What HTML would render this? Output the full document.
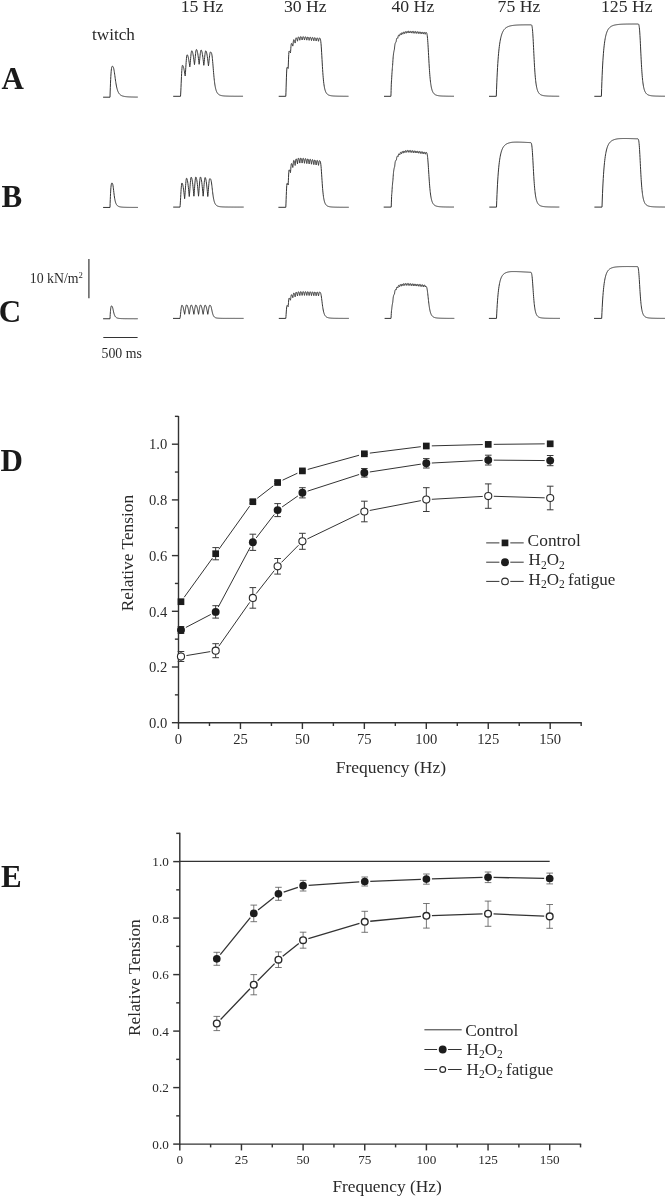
<!DOCTYPE html>
<html lang="en"><head><meta charset="utf-8"><title>Figure</title>
<style>
html,body{margin:0;padding:0;background:#fff;}
body{width:665px;height:1197px;overflow:hidden;}
svg{display:block;}
text{white-space:pre;}
</style></head><body>
<svg width="665" height="1197" viewBox="0 0 665 1197">
<rect width="665" height="1197" fill="#fff"/>
<g fill="none" stroke="#333" stroke-width="1" stroke-linejoin="round" stroke-linecap="butt">
<path d="M103.10 97.20 L110.00 97.20 L110.16 91.97 L110.33 87.32 L110.49 83.21 L110.66 79.62 L110.82 76.54 L110.99 73.93 L111.15 71.76 L111.31 70.02 L111.48 68.66 L111.64 67.65 L111.81 66.96 L111.97 66.54 L112.14 66.34 L112.30 66.30 L112.45 66.30 L112.65 66.34 L112.85 66.46 L113.05 66.68 L113.25 67.05 L113.45 67.58 L113.65 68.29 L113.85 69.17 L114.05 70.23 L114.25 71.44 L114.45 72.77 L114.65 74.19 L114.85 75.65 L115.05 77.14 L115.25 78.61 L115.45 80.05 L115.65 81.42 L115.85 82.72 L116.05 83.93 L116.25 85.06 L116.45 86.10 L116.65 87.05 L116.85 87.91 L117.05 88.70 L117.25 89.42 L117.45 90.07 L117.65 90.66 L117.85 91.19 L118.05 91.67 L118.25 92.11 L118.45 92.50 L118.65 92.86 L118.85 93.18 L119.05 93.48 L119.25 93.75 L119.45 93.99 L119.65 94.22 L119.85 94.42 L120.05 94.60 L120.25 94.78 L120.45 94.93 L120.65 95.07 L120.85 95.21 L121.05 95.33 L121.25 95.44 L121.45 95.54 L121.65 95.64 L121.85 95.73 L122.05 95.81 L122.25 95.89 L122.45 95.96 L122.65 96.02 L122.85 96.08 L123.05 96.14 L123.25 96.19 L123.45 96.24 L123.65 96.29 L123.85 96.33 L124.05 96.38 L124.25 96.41 L124.45 96.45 L124.65 96.48 L124.85 96.52 L125.05 96.55 L125.25 96.57 L125.45 96.60 L125.65 96.63 L125.85 96.65 L126.05 96.67 L126.25 96.69 L126.45 96.71 L126.65 96.73 L126.85 96.75 L127.05 96.77 L127.25 96.78 L127.45 96.80 L127.65 96.81 L127.85 96.83 L128.05 96.84 L128.25 96.85 L128.45 96.87 L128.65 96.88 L128.85 96.89 L129.05 96.90 L129.25 96.91 L129.45 96.92 L129.65 96.93 L129.85 96.94 L130.05 96.95 L130.25 96.95 L130.45 96.96 L130.65 96.97 L130.85 96.98 L131.05 96.98 L131.25 96.99 L131.45 97.00 L131.65 97.00 L131.85 97.01 L132.05 97.01 L132.25 97.02 L132.45 97.02 L132.65 97.03 L132.85 97.03 L133.05 97.04 L133.25 97.04 L133.45 97.05 L133.65 97.05 L133.85 97.05 L134.05 97.06 L134.25 97.06 L134.45 97.07 L134.65 97.07 L134.85 97.07 L135.05 97.08 L135.25 97.08 L135.45 97.08 L135.65 97.08 L135.85 97.09 L136.05 97.09 L136.25 97.09 L136.45 97.10 L136.65 97.10 L136.85 97.10 L137.05 97.10 L137.25 97.10 L137.45 97.11 L137.65 97.11 L137.80 97.20"/>
<path d="M173.20 96.30 L180.50 96.30 L180.66 94.10 L180.83 90.95 L180.99 87.41 L181.15 83.71 L181.32 80.04 L181.48 76.54 L181.64 73.36 L181.80 70.59 L181.97 68.33 L182.13 66.67 L182.29 65.64 L182.46 65.30 L182.68 65.39 L182.91 65.66 L183.13 66.11 L183.36 66.72 L183.58 67.49 L183.81 68.40 L184.03 69.45 L184.26 70.60 L184.48 71.84 L184.71 73.16 L184.93 74.52 L185.16 75.90 L185.32 74.40 L185.49 72.26 L185.65 69.85 L185.81 67.33 L185.98 64.83 L186.14 62.45 L186.30 60.28 L186.46 58.40 L186.63 56.86 L186.79 55.73 L186.95 55.03 L187.12 54.80 L187.34 54.90 L187.57 55.21 L187.79 55.71 L188.02 56.41 L188.24 57.28 L188.47 58.31 L188.69 59.49 L188.92 60.80 L189.14 62.21 L189.37 63.69 L189.59 65.23 L189.82 66.80 L189.98 65.67 L190.15 64.04 L190.31 62.21 L190.47 60.30 L190.64 58.41 L190.80 56.60 L190.96 54.96 L191.12 53.53 L191.29 52.36 L191.45 51.51 L191.61 50.98 L191.78 50.80 L192.00 50.92 L192.23 51.27 L192.45 51.85 L192.68 52.65 L192.90 53.65 L193.13 54.84 L193.35 56.20 L193.58 57.70 L193.80 59.32 L194.03 61.03 L194.25 62.80 L194.48 64.60 L194.64 63.53 L194.81 61.99 L194.97 60.27 L195.13 58.47 L195.30 56.68 L195.46 54.98 L195.62 53.42 L195.78 52.08 L195.95 50.98 L196.11 50.17 L196.27 49.67 L196.44 49.50 L196.66 49.63 L196.89 50.00 L197.11 50.63 L197.34 51.48 L197.56 52.56 L197.79 53.83 L198.01 55.29 L198.24 56.90 L198.46 58.64 L198.69 60.47 L198.91 62.37 L199.14 64.30 L199.30 63.29 L199.47 61.83 L199.63 60.20 L199.79 58.49 L199.96 56.80 L200.12 55.19 L200.28 53.72 L200.44 52.44 L200.61 51.40 L200.77 50.63 L200.93 50.16 L201.10 50.00 L201.32 50.13 L201.55 50.52 L201.77 51.16 L202.00 52.05 L202.22 53.16 L202.45 54.48 L202.67 55.99 L202.90 57.65 L203.12 59.44 L203.35 61.34 L203.57 63.30 L203.80 65.30 L203.96 64.27 L204.13 62.80 L204.29 61.14 L204.45 59.41 L204.62 57.69 L204.78 56.06 L204.94 54.57 L205.10 53.27 L205.27 52.22 L205.43 51.44 L205.59 50.96 L205.76 50.80 L205.98 50.93 L206.21 51.31 L206.43 51.94 L206.66 52.81 L206.88 53.90 L207.11 55.19 L207.33 56.67 L207.56 58.30 L207.78 60.06 L208.01 61.92 L208.23 63.84 L208.46 65.80 L208.62 64.83 L208.79 63.44 L208.95 61.87 L209.11 60.24 L209.28 58.61 L209.44 57.07 L209.60 55.66 L209.76 54.44 L209.93 53.44 L210.09 52.70 L210.25 52.25 L210.42 52.10 L210.42 52.10 L210.57 52.10 L210.72 52.11 L210.87 52.15 L211.02 52.23 L211.17 52.39 L211.32 52.63 L211.47 52.98 L211.62 53.47 L211.77 54.12 L211.92 54.93 L212.07 55.92 L212.22 57.09 L212.37 58.43 L212.52 59.92 L212.67 61.55 L212.82 63.28 L212.97 65.09 L213.12 66.94 L213.27 68.80 L213.42 70.65 L213.57 72.46 L213.72 74.20 L213.87 75.87 L214.02 77.45 L214.17 78.93 L214.32 80.31 L214.47 81.60 L214.62 82.78 L214.77 83.88 L214.92 84.88 L215.07 85.80 L215.22 86.64 L215.37 87.41 L215.52 88.10 L215.67 88.74 L215.82 89.32 L215.97 89.85 L216.12 90.34 L216.27 90.78 L216.42 91.18 L216.57 91.55 L216.72 91.89 L216.87 92.19 L217.02 92.48 L217.17 92.73 L217.32 92.97 L217.47 93.19 L217.62 93.39 L217.77 93.58 L217.92 93.75 L218.07 93.90 L218.22 94.05 L218.37 94.18 L218.52 94.31 L218.67 94.42 L218.82 94.53 L218.97 94.63 L219.12 94.72 L219.27 94.81 L219.42 94.89 L219.57 94.96 L219.72 95.03 L219.87 95.10 L220.02 95.16 L220.17 95.22 L220.32 95.27 L220.47 95.32 L220.62 95.37 L220.77 95.41 L220.92 95.45 L221.07 95.49 L221.22 95.53 L221.37 95.56 L221.52 95.60 L221.67 95.63 L221.82 95.66 L221.97 95.68 L222.12 95.71 L222.27 95.73 L222.42 95.76 L222.57 95.78 L222.72 95.80 L222.87 95.82 L223.02 95.84 L223.17 95.86 L223.32 95.88 L223.47 95.89 L223.62 95.91 L223.77 95.92 L223.92 95.94 L224.07 95.95 L224.22 95.96 L224.37 95.97 L224.52 95.99 L224.67 96.00 L224.82 96.01 L224.97 96.02 L225.12 96.03 L225.27 96.04 L225.42 96.04 L225.57 96.05 L225.72 96.06 L225.87 96.07 L226.02 96.08 L226.17 96.08 L226.32 96.09 L226.47 96.10 L226.62 96.10 L226.77 96.11 L226.92 96.12 L227.07 96.12 L227.22 96.13 L227.37 96.13 L227.52 96.14 L227.67 96.14 L227.82 96.15 L227.97 96.15 L228.12 96.15 L228.27 96.16 L228.42 96.16 L228.57 96.17 L228.72 96.17 L228.87 96.17 L229.02 96.18 L229.17 96.18 L229.32 96.18 L229.47 96.19 L229.62 96.19 L229.77 96.19 L229.92 96.19 L230.07 96.20 L230.22 96.20 L230.37 96.20 L230.52 96.21 L230.67 96.21 L230.82 96.21 L230.97 96.21 L231.12 96.21 L231.27 96.22 L231.42 96.22 L231.57 96.22 L231.72 96.22 L231.87 96.22 L232.02 96.23 L232.17 96.23 L232.32 96.23 L232.47 96.23 L232.62 96.23 L232.77 96.23 L232.92 96.24 L233.07 96.24 L233.22 96.24 L233.37 96.24 L233.52 96.24 L233.67 96.24 L233.82 96.24 L233.97 96.24 L234.12 96.25 L234.27 96.25 L234.42 96.25 L234.57 96.25 L234.72 96.25 L234.87 96.25 L235.02 96.25 L235.17 96.25 L235.32 96.25 L235.47 96.26 L235.62 96.26 L235.77 96.26 L235.92 96.26 L236.07 96.26 L236.22 96.26 L236.37 96.26 L236.52 96.26 L236.67 96.26 L236.82 96.26 L236.97 96.26 L237.12 96.26 L237.27 96.26 L237.42 96.27 L237.57 96.27 L237.72 96.27 L237.87 96.27 L238.02 96.27 L238.17 96.27 L238.32 96.27 L238.47 96.27 L238.62 96.27 L238.77 96.27 L238.92 96.27 L239.07 96.27 L239.22 96.27 L239.37 96.27 L239.52 96.27 L239.67 96.27 L239.82 96.27 L239.97 96.27 L240.12 96.27 L240.27 96.28 L240.42 96.28 L240.57 96.28 L240.72 96.28 L240.87 96.28 L241.02 96.28 L241.17 96.28 L241.32 96.28 L241.47 96.28 L241.62 96.28 L241.77 96.28 L241.92 96.28 L242.07 96.28 L242.22 96.28 L242.37 96.28 L242.52 96.28 L242.67 96.28 L242.82 96.28 L242.97 96.28 L243.00 96.30"/>
<path d="M278.70 96.30 L285.80 96.30 L285.96 92.22 L286.12 87.14 L286.28 81.98 L286.44 77.17 L286.60 73.07 L286.76 69.94 L286.92 67.98 L287.08 67.31 L287.22 67.33 L287.35 67.40 L287.48 67.50 L287.61 67.65 L287.74 67.82 L287.87 68.02 L288.00 68.24 L288.13 68.46 L288.26 66.01 L288.38 62.95 L288.50 59.84 L288.63 56.94 L288.75 54.47 L288.87 52.58 L288.99 51.40 L289.12 51.00 L289.28 51.04 L289.45 51.14 L289.62 51.32 L289.79 51.56 L289.96 51.85 L290.13 52.18 L290.30 52.53 L290.47 52.90 L290.59 51.57 L290.72 49.92 L290.84 48.23 L290.96 46.67 L291.08 45.33 L291.21 44.31 L291.33 43.67 L291.45 43.45 L291.62 43.50 L291.79 43.65 L291.96 43.90 L292.13 44.23 L292.30 44.63 L292.47 45.09 L292.64 45.58 L292.81 46.10 L292.93 45.20 L293.05 44.07 L293.17 42.93 L293.30 41.86 L293.42 40.95 L293.54 40.26 L293.66 39.82 L293.79 39.67 L293.95 39.74 L294.12 39.93 L294.29 40.25 L294.46 40.67 L294.63 41.19 L294.80 41.77 L294.97 42.41 L295.14 43.07 L295.26 42.33 L295.39 41.41 L295.51 40.46 L295.63 39.59 L295.75 38.84 L295.88 38.27 L296.00 37.91 L296.12 37.79 L296.29 37.85 L296.46 38.05 L296.63 38.36 L296.80 38.78 L296.97 39.30 L297.14 39.89 L297.31 40.52 L297.47 41.19 L297.60 40.58 L297.72 39.82 L297.84 39.04 L297.97 38.32 L298.09 37.71 L298.21 37.24 L298.33 36.94 L298.46 36.84 L298.62 36.91 L298.79 37.10 L298.96 37.42 L299.13 37.84 L299.30 38.35 L299.47 38.94 L299.64 39.58 L299.81 40.24 L299.93 39.73 L300.06 39.10 L300.18 38.45 L300.30 37.85 L300.42 37.34 L300.55 36.94 L300.67 36.70 L300.79 36.61 L300.96 36.68 L301.13 36.87 L301.30 37.19 L301.47 37.61 L301.64 38.13 L301.81 38.71 L301.98 39.35 L302.14 40.01 L302.27 39.54 L302.39 38.94 L302.51 38.34 L302.64 37.78 L302.76 37.30 L302.88 36.93 L303.00 36.70 L303.13 36.62 L303.29 36.69 L303.46 36.88 L303.63 37.20 L303.80 37.62 L303.97 38.13 L304.14 38.72 L304.31 39.36 L304.48 40.02 L304.60 39.56 L304.73 38.99 L304.85 38.41 L304.97 37.86 L305.09 37.40 L305.22 37.05 L305.34 36.83 L305.46 36.75 L305.63 36.82 L305.80 37.01 L305.97 37.32 L306.14 37.75 L306.31 38.26 L306.48 38.85 L306.65 39.49 L306.81 40.15 L306.94 39.70 L307.06 39.13 L307.18 38.56 L307.31 38.03 L307.43 37.57 L307.55 37.23 L307.67 37.01 L307.80 36.94 L307.96 37.00 L308.13 37.19 L308.30 37.51 L308.47 37.93 L308.64 38.45 L308.81 39.03 L308.98 39.67 L309.15 40.34 L309.27 39.89 L309.40 39.33 L309.52 38.76 L309.64 38.23 L309.76 37.78 L309.89 37.44 L310.01 37.22 L310.13 37.15 L310.30 37.22 L310.47 37.41 L310.64 37.72 L310.81 38.15 L310.98 38.66 L311.15 39.25 L311.32 39.89 L311.48 40.55 L311.61 40.11 L311.73 39.55 L311.85 38.99 L311.98 38.46 L312.10 38.01 L312.22 37.67 L312.34 37.45 L312.47 37.38 L312.63 37.45 L312.80 37.64 L312.97 37.95 L313.14 38.38 L313.31 38.89 L313.48 39.48 L313.65 40.12 L313.82 40.78 L313.94 40.34 L314.07 39.78 L314.19 39.22 L314.31 38.69 L314.43 38.25 L314.56 37.90 L314.68 37.69 L314.80 37.62 L314.97 37.68 L315.14 37.88 L315.31 38.19 L315.48 38.61 L315.65 39.13 L315.82 39.72 L315.99 40.35 L316.15 41.02 L316.28 40.57 L316.40 40.02 L316.52 39.46 L316.65 38.93 L316.77 38.49 L316.89 38.15 L317.01 37.93 L317.14 37.86 L317.30 37.92 L317.47 38.12 L317.64 38.43 L317.81 38.85 L317.98 39.37 L318.15 39.96 L318.32 40.60 L318.49 41.26 L318.61 40.81 L318.74 40.26 L318.86 39.70 L318.98 39.18 L319.10 38.73 L319.23 38.39 L319.35 38.17 L319.47 38.10 L319.62 38.10 L319.82 38.14 L320.02 38.28 L320.22 38.62 L320.42 39.25 L320.62 40.25 L320.82 41.72 L321.02 43.68 L321.22 46.13 L321.42 49.03 L321.62 52.28 L321.82 55.77 L322.02 59.36 L322.22 62.93 L322.42 66.37 L322.62 69.61 L322.82 72.60 L323.02 75.31 L323.22 77.74 L323.42 79.90 L323.62 81.80 L323.82 83.47 L324.02 84.94 L324.22 86.21 L324.42 87.33 L324.62 88.31 L324.82 89.16 L325.02 89.90 L325.22 90.56 L325.42 91.13 L325.62 91.64 L325.82 92.08 L326.02 92.48 L326.22 92.83 L326.42 93.14 L326.62 93.41 L326.82 93.66 L327.02 93.88 L327.22 94.08 L327.42 94.26 L327.62 94.42 L327.82 94.56 L328.02 94.69 L328.22 94.81 L328.42 94.92 L328.62 95.02 L328.82 95.11 L329.02 95.19 L329.22 95.26 L329.42 95.33 L329.62 95.39 L329.82 95.45 L330.02 95.50 L330.22 95.55 L330.42 95.60 L330.62 95.64 L330.82 95.68 L331.02 95.71 L331.22 95.74 L331.42 95.78 L331.62 95.80 L331.82 95.83 L332.02 95.85 L332.22 95.88 L332.42 95.90 L332.62 95.92 L332.82 95.94 L333.02 95.96 L333.22 95.97 L333.42 95.99 L333.62 96.00 L333.82 96.02 L334.02 96.03 L334.22 96.04 L334.42 96.05 L334.62 96.06 L334.82 96.07 L335.02 96.08 L335.22 96.09 L335.42 96.10 L335.62 96.11 L335.82 96.12 L336.02 96.13 L336.22 96.13 L336.42 96.14 L336.62 96.15 L336.82 96.15 L337.02 96.16 L337.22 96.16 L337.42 96.17 L337.62 96.17 L337.82 96.18 L338.02 96.18 L338.22 96.19 L338.42 96.19 L338.62 96.19 L338.82 96.20 L339.02 96.20 L339.22 96.20 L339.42 96.21 L339.62 96.21 L339.82 96.21 L340.02 96.22 L340.22 96.22 L340.42 96.22 L340.62 96.22 L340.82 96.23 L341.02 96.23 L341.22 96.23 L341.42 96.23 L341.62 96.24 L341.82 96.24 L342.02 96.24 L342.22 96.24 L342.42 96.24 L342.62 96.24 L342.82 96.25 L343.02 96.25 L343.22 96.25 L343.42 96.25 L343.62 96.25 L343.82 96.25 L344.02 96.25 L344.22 96.26 L344.42 96.26 L344.62 96.26 L344.82 96.26 L345.02 96.26 L345.22 96.26 L345.42 96.26 L345.62 96.26 L345.82 96.26 L346.02 96.26 L346.22 96.27 L346.42 96.27 L346.62 96.27 L346.82 96.27 L347.02 96.27 L347.22 96.27 L347.42 96.27 L347.62 96.27 L347.82 96.27 L348.02 96.27 L348.22 96.27 L348.42 96.27 L348.50 96.27"/>
<path d="M384.00 96.30 L390.90 96.30 L390.90 96.30 L391.00 93.88 L391.10 90.57 L391.20 87.19 L391.30 84.24 L391.40 82.05 L391.50 80.88 L391.60 79.75 L391.70 77.81 L391.80 76.01 L391.90 74.33 L392.00 72.78 L392.10 71.32 L392.20 69.97 L392.30 68.70 L392.40 67.52 L392.50 66.42 L392.60 65.38 L392.70 63.92 L392.80 62.32 L392.90 60.75 L393.00 59.27 L393.10 57.93 L393.20 56.76 L393.30 55.76 L393.40 54.86 L393.50 54.05 L393.60 53.31 L393.70 52.64 L393.80 52.04 L393.90 51.50 L394.00 51.02 L394.10 50.59 L394.20 50.20 L394.30 49.84 L394.40 49.13 L394.50 48.16 L394.60 47.19 L394.70 46.27 L394.80 45.46 L394.90 44.78 L395.00 44.26 L395.10 43.83 L395.20 43.46 L395.30 43.15 L395.40 42.89 L395.50 42.68 L395.60 42.52 L395.70 42.40 L395.80 42.31 L395.90 42.24 L396.00 42.20 L396.10 41.89 L396.20 41.22 L396.30 40.52 L396.40 39.85 L396.50 39.28 L396.60 38.82 L396.70 38.51 L396.80 38.30 L396.90 38.14 L397.00 38.02 L397.10 37.95 L397.20 37.92 L397.30 37.93 L397.40 37.97 L397.50 38.04 L397.60 38.13 L397.70 38.24 L397.80 38.16 L397.90 37.64 L398.00 37.07 L398.10 36.53 L398.20 36.06 L398.30 35.70 L398.40 35.48 L398.50 35.36 L398.60 35.30 L398.70 35.27 L398.80 35.29 L398.90 35.35 L399.00 35.44 L399.10 35.56 L399.20 35.71 L399.30 35.87 L399.40 36.05 L399.50 36.12 L399.60 35.69 L399.70 35.19 L399.80 34.70 L399.90 34.28 L400.00 33.96 L400.10 33.77 L400.20 33.70 L400.30 33.68 L400.40 33.70 L400.50 33.76 L400.60 33.86 L400.70 33.99 L400.80 34.15 L400.90 34.33 L401.00 34.53 L401.10 34.75 L401.20 34.93 L401.30 34.56 L401.40 34.10 L401.50 33.63 L401.60 33.23 L401.70 32.93 L401.80 32.75 L401.90 32.70 L402.00 32.70 L402.10 32.74 L402.20 32.82 L402.30 32.93 L402.40 33.08 L402.50 33.26 L402.60 33.46 L402.70 33.69 L402.80 33.92 L402.90 34.17 L403.00 33.87 L403.10 33.43 L403.20 32.98 L403.30 32.59 L403.40 32.28 L403.50 32.10 L403.60 32.05 L403.70 32.06 L403.80 32.11 L403.90 32.20 L404.00 32.32 L404.10 32.48 L404.20 32.67 L404.30 32.88 L404.40 33.12 L404.50 33.36 L404.60 33.62 L404.70 33.43 L404.80 33.01 L404.90 32.57 L405.00 32.17 L405.10 31.86 L405.20 31.67 L405.30 31.62 L405.40 31.63 L405.50 31.68 L405.60 31.77 L405.70 31.90 L405.80 32.06 L405.90 32.26 L406.00 32.47 L406.10 32.71 L406.20 32.96 L406.30 33.23 L406.40 33.14 L406.50 32.74 L406.60 32.30 L406.70 31.90 L406.80 31.58 L406.90 31.38 L407.00 31.31 L407.10 31.32 L407.20 31.38 L407.30 31.47 L407.40 31.60 L407.50 31.76 L407.60 31.96 L407.70 32.17 L407.80 32.42 L407.90 32.67 L408.00 32.94 L408.10 32.95 L408.20 32.58 L408.30 32.16 L408.40 31.77 L408.50 31.45 L408.60 31.24 L408.70 31.17 L408.80 31.19 L408.90 31.25 L409.00 31.35 L409.10 31.49 L409.20 31.66 L409.30 31.87 L409.40 32.10 L409.50 32.35 L409.60 32.62 L409.70 32.90 L409.80 33.00 L409.90 32.65 L410.00 32.24 L410.10 31.84 L410.20 31.51 L410.30 31.29 L410.40 31.19 L410.50 31.21 L410.60 31.27 L410.70 31.37 L410.80 31.50 L410.90 31.67 L411.00 31.87 L411.10 32.10 L411.20 32.36 L411.30 32.62 L411.40 32.90 L411.50 33.09 L411.60 32.76 L411.70 32.36 L411.80 31.96 L411.90 31.62 L412.00 31.38 L412.10 31.27 L412.20 31.27 L412.30 31.33 L412.40 31.42 L412.50 31.55 L412.60 31.72 L412.70 31.92 L412.80 32.15 L412.90 32.40 L413.00 32.67 L413.10 32.95 L413.20 33.21 L413.30 32.91 L413.40 32.51 L413.50 32.11 L413.60 31.75 L413.70 31.50 L413.80 31.37 L413.90 31.37 L414.00 31.42 L414.10 31.51 L414.20 31.63 L414.30 31.80 L414.40 31.99 L414.50 32.22 L414.60 32.47 L414.70 32.73 L414.80 33.01 L414.90 33.30 L415.00 33.08 L415.10 32.69 L415.20 32.28 L415.30 31.92 L415.40 31.65 L415.50 31.50 L415.60 31.48 L415.70 31.53 L415.80 31.61 L415.90 31.74 L416.00 31.90 L416.10 32.09 L416.20 32.31 L416.30 32.56 L416.40 32.82 L416.50 33.10 L416.60 33.39 L416.70 33.26 L416.80 32.88 L416.90 32.47 L417.00 32.10 L417.10 31.82 L417.20 31.65 L417.30 31.62 L417.40 31.66 L417.50 31.73 L417.60 31.85 L417.70 32.01 L417.80 32.20 L417.90 32.42 L418.00 32.66 L418.10 32.92 L418.20 33.20 L418.30 33.49 L418.40 33.46 L418.50 33.09 L418.60 32.68 L418.70 32.30 L418.80 32.00 L418.90 31.81 L419.00 31.76 L419.10 31.80 L419.20 31.87 L419.30 31.98 L419.40 32.13 L419.50 32.32 L419.60 32.53 L419.70 32.77 L419.80 33.04 L419.90 33.31 L420.00 33.60 L420.10 33.66 L420.20 33.30 L420.30 32.89 L420.40 32.51 L420.50 32.19 L420.60 31.99 L420.70 31.92 L420.80 31.95 L420.90 32.01 L421.00 32.12 L421.10 32.27 L421.20 32.45 L421.30 32.66 L421.40 32.90 L421.50 33.16 L421.60 33.43 L421.70 33.72 L421.80 33.86 L421.90 33.52 L422.00 33.12 L422.10 32.73 L422.20 32.40 L422.30 32.18 L422.40 32.08 L422.50 32.10 L422.60 32.17 L422.70 32.27 L422.80 32.41 L422.90 32.58 L423.00 32.79 L423.10 33.03 L423.20 33.28 L423.30 33.56 L423.40 33.84 L423.50 34.06 L423.60 33.75 L423.70 33.35 L423.80 32.95 L423.90 32.61 L424.00 32.37 L424.10 32.26 L424.20 32.27 L424.30 32.32 L424.40 32.42 L424.50 32.55 L424.60 32.73 L424.70 32.93 L424.80 33.16 L424.90 33.41 L425.00 33.68 L425.10 33.97 L425.20 34.26 L425.30 33.97 L425.40 33.58 L425.50 33.18 L425.60 32.83 L425.70 32.57 L425.80 32.44 L425.90 32.43 L425.90 32.43 L426.05 32.43 L426.20 32.45 L426.35 32.51 L426.50 32.65 L426.65 32.89 L426.80 33.28 L426.95 33.85 L427.10 34.63 L427.25 35.66 L427.40 36.95 L427.55 38.51 L427.70 40.34 L427.85 42.43 L428.00 44.74 L428.15 47.24 L428.30 49.89 L428.45 52.62 L428.60 55.39 L428.75 58.16 L428.90 60.88 L429.05 63.51 L429.20 66.04 L429.35 68.43 L429.50 70.68 L429.65 72.77 L429.80 74.72 L429.95 76.51 L430.10 78.16 L430.25 79.67 L430.40 81.05 L430.55 82.30 L430.70 83.45 L430.85 84.49 L431.00 85.43 L431.15 86.29 L431.30 87.08 L431.45 87.79 L431.60 88.43 L431.75 89.02 L431.90 89.56 L432.05 90.05 L432.20 90.50 L432.35 90.91 L432.50 91.28 L432.65 91.62 L432.80 91.94 L432.95 92.22 L433.10 92.49 L433.25 92.73 L433.40 92.96 L433.55 93.16 L433.70 93.35 L433.85 93.53 L434.00 93.69 L434.15 93.85 L434.30 93.99 L434.45 94.12 L434.60 94.24 L434.75 94.35 L434.90 94.46 L435.05 94.55 L435.20 94.65 L435.35 94.73 L435.50 94.81 L435.65 94.89 L435.80 94.96 L435.95 95.02 L436.10 95.08 L436.25 95.14 L436.40 95.20 L436.55 95.25 L436.70 95.29 L436.85 95.34 L437.00 95.38 L437.15 95.42 L437.30 95.46 L437.45 95.50 L437.60 95.53 L437.75 95.56 L437.90 95.59 L438.05 95.62 L438.20 95.65 L438.35 95.68 L438.50 95.70 L438.65 95.72 L438.80 95.75 L438.95 95.77 L439.10 95.79 L439.25 95.81 L439.40 95.83 L439.55 95.84 L439.70 95.86 L439.85 95.88 L440.00 95.89 L440.15 95.90 L440.30 95.92 L440.45 95.93 L440.60 95.94 L440.75 95.96 L440.90 95.97 L441.05 95.98 L441.20 95.99 L441.35 96.00 L441.50 96.01 L441.65 96.02 L441.80 96.03 L441.95 96.04 L442.10 96.04 L442.25 96.05 L442.40 96.06 L442.55 96.07 L442.70 96.07 L442.85 96.08 L443.00 96.09 L443.15 96.09 L443.30 96.10 L443.45 96.10 L443.60 96.11 L443.75 96.12 L443.90 96.12 L444.05 96.13 L444.20 96.13 L444.35 96.14 L444.50 96.14 L444.65 96.14 L444.80 96.15 L444.95 96.15 L445.10 96.16 L445.25 96.16 L445.40 96.16 L445.55 96.17 L445.70 96.17 L445.85 96.17 L446.00 96.18 L446.15 96.18 L446.30 96.18 L446.45 96.19 L446.60 96.19 L446.75 96.19 L446.90 96.19 L447.05 96.20 L447.20 96.20 L447.35 96.20 L447.50 96.20 L447.65 96.21 L447.80 96.21 L447.95 96.21 L448.10 96.21 L448.25 96.21 L448.40 96.22 L448.55 96.22 L448.70 96.22 L448.85 96.22 L449.00 96.22 L449.15 96.22 L449.30 96.23 L449.45 96.23 L449.60 96.23 L449.75 96.23 L449.90 96.23 L450.05 96.23 L450.20 96.24 L450.35 96.24 L450.50 96.24 L450.65 96.24 L450.80 96.24 L450.95 96.24 L451.10 96.24 L451.25 96.24 L451.40 96.25 L451.55 96.25 L451.70 96.25 L451.85 96.25 L452.00 96.25 L452.15 96.25 L452.30 96.25 L452.45 96.25 L452.60 96.25 L452.75 96.25 L452.90 96.25 L453.05 96.26 L453.20 96.26 L453.35 96.26 L453.50 96.26 L453.65 96.26 L453.80 96.26 L453.95 96.26 L454.00 96.26"/>
<path d="M489.00 96.30 L496.30 96.30 L496.30 96.30 L496.55 89.19 L496.80 82.84 L497.05 77.17 L497.30 72.11 L497.55 67.57 L497.80 63.52 L498.05 59.89 L498.30 56.64 L498.55 53.72 L498.80 51.11 L499.05 48.76 L499.30 46.65 L499.55 44.75 L499.80 43.04 L500.05 41.50 L500.30 40.11 L500.55 38.86 L500.80 37.72 L501.05 36.70 L501.30 35.77 L501.55 34.92 L501.80 34.16 L502.05 33.46 L502.30 32.83 L502.55 32.25 L502.80 31.72 L503.05 31.24 L503.30 30.80 L503.55 30.39 L503.80 30.02 L504.05 29.68 L504.30 29.37 L504.55 29.08 L504.80 28.81 L505.05 28.56 L505.30 28.33 L505.55 28.12 L505.80 27.92 L506.05 27.74 L506.30 27.56 L506.55 27.40 L506.80 27.26 L507.05 27.12 L507.30 26.99 L507.55 26.86 L507.80 26.75 L508.05 26.64 L508.30 26.54 L508.55 26.44 L508.80 26.35 L509.05 26.27 L509.30 26.19 L509.55 26.11 L509.80 26.05 L510.05 25.98 L510.30 25.92 L510.55 25.86 L510.80 25.80 L511.05 25.75 L511.30 25.70 L511.55 25.65 L511.80 25.61 L512.05 25.57 L512.30 25.53 L512.55 25.49 L512.80 25.45 L513.05 25.42 L513.30 25.39 L513.55 25.36 L513.80 25.33 L514.05 25.30 L514.30 25.27 L514.55 25.25 L514.80 25.22 L515.05 25.20 L515.30 25.18 L515.55 25.16 L515.80 25.14 L516.05 25.12 L516.30 25.10 L516.55 25.09 L516.80 25.07 L517.05 25.05 L517.30 25.04 L517.55 25.03 L517.80 25.01 L518.05 25.00 L518.30 24.99 L518.55 24.98 L518.80 24.97 L519.05 24.96 L519.30 24.95 L519.55 24.94 L519.80 24.93 L520.05 24.92 L520.30 24.92 L520.55 24.91 L520.80 24.90 L521.05 24.90 L521.30 24.89 L521.55 24.89 L521.80 24.88 L522.05 24.88 L522.30 24.87 L522.55 24.87 L522.80 24.86 L523.05 24.86 L523.30 24.86 L523.55 24.85 L523.80 24.85 L524.05 24.85 L524.30 24.85 L524.55 24.84 L524.80 24.84 L525.05 24.84 L525.30 24.84 L525.55 24.84 L525.80 24.83 L526.05 24.83 L526.30 24.83 L526.55 24.83 L526.80 24.83 L527.05 24.83 L527.30 24.83 L527.55 24.83 L527.80 24.83 L528.05 24.83 L528.30 24.83 L528.55 24.83 L528.80 24.83 L529.05 24.83 L529.30 24.83 L529.55 24.83 L529.80 24.83 L530.05 24.83 L530.30 24.83 L530.55 24.83 L530.80 24.83 L531.00 24.83 L531.15 24.83 L531.30 24.86 L531.45 24.92 L531.60 25.07 L531.75 25.34 L531.90 25.78 L532.05 26.41 L532.20 27.29 L532.35 28.44 L532.50 29.88 L532.65 31.63 L532.80 33.69 L532.95 36.02 L533.10 38.61 L533.25 41.41 L533.40 44.36 L533.55 47.42 L533.70 50.52 L533.85 53.62 L534.00 56.66 L534.15 59.61 L534.30 62.43 L534.45 65.11 L534.60 67.63 L534.75 69.97 L534.90 72.15 L535.05 74.16 L535.20 76.00 L535.35 77.69 L535.50 79.23 L535.65 80.64 L535.80 81.92 L535.95 83.08 L536.10 84.14 L536.25 85.10 L536.40 85.98 L536.55 86.77 L536.70 87.50 L536.85 88.16 L537.00 88.76 L537.15 89.31 L537.30 89.81 L537.45 90.26 L537.60 90.68 L537.75 91.06 L537.90 91.42 L538.05 91.74 L538.20 92.03 L538.35 92.31 L538.50 92.56 L538.65 92.79 L538.80 93.00 L538.95 93.20 L539.10 93.38 L539.25 93.55 L539.40 93.71 L539.55 93.86 L539.70 93.99 L539.85 94.12 L540.00 94.24 L540.15 94.35 L540.30 94.45 L540.45 94.54 L540.60 94.63 L540.75 94.72 L540.90 94.80 L541.05 94.87 L541.20 94.94 L541.35 95.00 L541.50 95.06 L541.65 95.12 L541.80 95.18 L541.95 95.23 L542.10 95.27 L542.25 95.32 L542.40 95.36 L542.55 95.40 L542.70 95.44 L542.85 95.48 L543.00 95.51 L543.15 95.54 L543.30 95.57 L543.45 95.60 L543.60 95.63 L543.75 95.66 L543.90 95.68 L544.05 95.70 L544.20 95.73 L544.35 95.75 L544.50 95.77 L544.65 95.79 L544.80 95.81 L544.95 95.82 L545.10 95.84 L545.25 95.86 L545.40 95.87 L545.55 95.89 L545.70 95.90 L545.85 95.92 L546.00 95.93 L546.15 95.94 L546.30 95.95 L546.45 95.96 L546.60 95.97 L546.75 95.98 L546.90 95.99 L547.05 96.00 L547.20 96.01 L547.35 96.02 L547.50 96.03 L547.65 96.04 L547.80 96.05 L547.95 96.05 L548.10 96.06 L548.25 96.07 L548.40 96.07 L548.55 96.08 L548.70 96.09 L548.85 96.09 L549.00 96.10 L549.15 96.10 L549.30 96.11 L549.45 96.12 L549.60 96.12 L549.75 96.13 L549.90 96.13 L550.05 96.13 L550.20 96.14 L550.35 96.14 L550.50 96.15 L550.65 96.15 L550.80 96.15 L550.95 96.16 L551.10 96.16 L551.25 96.17 L551.40 96.17 L551.55 96.17 L551.70 96.18 L551.85 96.18 L552.00 96.18 L552.15 96.18 L552.30 96.19 L552.45 96.19 L552.60 96.19 L552.75 96.19 L552.90 96.20 L553.05 96.20 L553.20 96.20 L553.35 96.20 L553.50 96.21 L553.65 96.21 L553.80 96.21 L553.95 96.21 L554.10 96.21 L554.25 96.22 L554.40 96.22 L554.55 96.22 L554.70 96.22 L554.85 96.22 L555.00 96.22 L555.15 96.23 L555.30 96.23 L555.45 96.23 L555.60 96.23 L555.75 96.23 L555.90 96.23 L556.05 96.23 L556.20 96.24 L556.35 96.24 L556.50 96.24 L556.65 96.24 L556.80 96.24 L556.95 96.24 L557.10 96.24 L557.25 96.24 L557.40 96.25 L557.55 96.25 L557.70 96.25 L557.85 96.25 L558.00 96.25 L558.15 96.25 L558.30 96.25 L558.45 96.25 L558.60 96.25 L558.75 96.25 L558.90 96.25 L559.05 96.26 L559.20 96.26 L559.20 96.26"/>
<path d="M594.30 96.30 L601.40 96.30 L601.40 96.30 L601.65 88.40 L601.90 81.44 L602.15 75.29 L602.40 69.86 L602.65 65.06 L602.90 60.81 L603.15 57.06 L603.40 53.72 L603.65 50.77 L603.90 48.15 L604.15 45.82 L604.40 43.75 L604.65 41.90 L604.90 40.26 L605.15 38.79 L605.40 37.48 L605.65 36.30 L605.90 35.25 L606.15 34.31 L606.40 33.46 L606.65 32.69 L606.90 32.00 L607.15 31.38 L607.40 30.82 L607.65 30.31 L607.90 29.84 L608.15 29.42 L608.40 29.04 L608.65 28.69 L608.90 28.37 L609.15 28.07 L609.40 27.80 L609.65 27.56 L609.90 27.33 L610.15 27.12 L610.40 26.92 L610.65 26.74 L610.90 26.58 L611.15 26.42 L611.40 26.28 L611.65 26.14 L611.90 26.02 L612.15 25.90 L612.40 25.79 L612.65 25.69 L612.90 25.59 L613.15 25.50 L613.40 25.42 L613.65 25.34 L613.90 25.27 L614.15 25.20 L614.40 25.13 L614.65 25.07 L614.90 25.01 L615.15 24.96 L615.40 24.91 L615.65 24.86 L615.90 24.81 L616.15 24.77 L616.40 24.73 L616.65 24.69 L616.90 24.65 L617.15 24.62 L617.40 24.58 L617.65 24.55 L617.90 24.52 L618.15 24.49 L618.40 24.47 L618.65 24.44 L618.90 24.42 L619.15 24.40 L619.40 24.37 L619.65 24.35 L619.90 24.33 L620.15 24.32 L620.40 24.30 L620.65 24.28 L620.90 24.27 L621.15 24.25 L621.40 24.24 L621.65 24.22 L621.90 24.21 L622.15 24.20 L622.40 24.19 L622.65 24.18 L622.90 24.17 L623.15 24.16 L623.40 24.15 L623.65 24.14 L623.90 24.13 L624.15 24.12 L624.40 24.11 L624.65 24.11 L624.90 24.10 L625.15 24.09 L625.40 24.09 L625.65 24.08 L625.90 24.08 L626.15 24.07 L626.40 24.07 L626.65 24.06 L626.90 24.06 L627.15 24.06 L627.40 24.05 L627.65 24.05 L627.90 24.05 L628.15 24.04 L628.40 24.04 L628.65 24.04 L628.90 24.03 L629.15 24.03 L629.40 24.03 L629.65 24.03 L629.90 24.03 L630.15 24.02 L630.40 24.02 L630.65 24.02 L630.90 24.02 L631.15 24.02 L631.40 24.02 L631.65 24.02 L631.90 24.02 L632.15 24.01 L632.40 24.01 L632.65 24.01 L632.90 24.01 L633.15 24.01 L633.40 24.01 L633.65 24.01 L633.90 24.01 L634.15 24.01 L634.40 24.01 L634.65 24.01 L634.90 24.01 L635.15 24.01 L635.40 24.01 L635.65 24.01 L635.90 24.01 L636.15 24.01 L636.40 24.01 L636.65 24.01 L636.90 24.01 L637.15 24.01 L637.40 24.01 L637.65 24.01 L637.90 24.01 L638.00 24.01 L638.15 24.01 L638.30 24.04 L638.45 24.10 L638.60 24.26 L638.75 24.53 L638.90 24.97 L639.05 25.61 L639.20 26.50 L639.35 27.66 L639.50 29.12 L639.65 30.89 L639.80 32.97 L639.95 35.33 L640.10 37.95 L640.25 40.78 L640.40 43.77 L640.55 46.86 L640.70 50.00 L640.85 53.13 L641.00 56.21 L641.15 59.19 L641.30 62.05 L641.45 64.75 L641.60 67.30 L641.75 69.67 L641.90 71.87 L642.05 73.90 L642.20 75.77 L642.35 77.48 L642.50 79.04 L642.65 80.46 L642.80 81.75 L642.95 82.93 L643.10 84.00 L643.25 84.98 L643.40 85.86 L643.55 86.66 L643.70 87.40 L643.85 88.06 L644.00 88.67 L644.15 89.23 L644.30 89.73 L644.45 90.19 L644.60 90.62 L644.75 91.00 L644.90 91.36 L645.05 91.69 L645.20 91.99 L645.35 92.26 L645.50 92.52 L645.65 92.75 L645.80 92.97 L645.95 93.17 L646.10 93.35 L646.25 93.52 L646.40 93.68 L646.55 93.83 L646.70 93.97 L646.85 94.09 L647.00 94.21 L647.15 94.32 L647.30 94.43 L647.45 94.52 L647.60 94.61 L647.75 94.70 L647.90 94.78 L648.05 94.85 L648.20 94.92 L648.35 94.99 L648.50 95.05 L648.65 95.11 L648.80 95.16 L648.95 95.21 L649.10 95.26 L649.25 95.31 L649.40 95.35 L649.55 95.39 L649.70 95.43 L649.85 95.47 L650.00 95.50 L650.15 95.53 L650.30 95.56 L650.45 95.59 L650.60 95.62 L650.75 95.65 L650.90 95.67 L651.05 95.70 L651.20 95.72 L651.35 95.74 L651.50 95.76 L651.65 95.78 L651.80 95.80 L651.95 95.82 L652.10 95.84 L652.25 95.85 L652.40 95.87 L652.55 95.88 L652.70 95.90 L652.85 95.91 L653.00 95.92 L653.15 95.94 L653.30 95.95 L653.45 95.96 L653.60 95.97 L653.75 95.98 L653.90 95.99 L654.05 96.00 L654.20 96.01 L654.35 96.02 L654.50 96.03 L654.65 96.04 L654.80 96.04 L654.95 96.05 L655.10 96.06 L655.25 96.07 L655.40 96.07 L655.55 96.08 L655.70 96.09 L655.85 96.09 L656.00 96.10 L656.15 96.10 L656.30 96.11 L656.45 96.11 L656.60 96.12 L656.75 96.12 L656.90 96.13 L657.05 96.13 L657.20 96.14 L657.35 96.14 L657.50 96.15 L657.65 96.15 L657.80 96.15 L657.95 96.16 L658.10 96.16 L658.25 96.16 L658.40 96.17 L658.55 96.17 L658.70 96.17 L658.85 96.18 L659.00 96.18 L659.15 96.18 L659.30 96.19 L659.45 96.19 L659.60 96.19 L659.75 96.19 L659.90 96.20 L660.05 96.20 L660.20 96.20 L660.35 96.20 L660.50 96.20 L660.65 96.21 L660.80 96.21 L660.95 96.21 L661.10 96.21 L661.25 96.21 L661.40 96.22 L661.55 96.22 L661.70 96.22 L661.85 96.22 L662.00 96.22 L662.15 96.23 L662.30 96.23 L662.45 96.23 L662.60 96.23 L662.75 96.23 L662.90 96.23 L663.05 96.23 L663.20 96.24 L663.35 96.24 L663.50 96.24 L663.65 96.24 L663.80 96.24 L663.95 96.24 L664.10 96.24 L664.25 96.24 L664.40 96.24 L664.55 96.25 L664.70 96.25 L664.85 96.25 L665.00 96.25 L665.00 96.25"/>
<path d="M103.10 207.45 L110.00 207.45 L110.14 203.32 L110.27 199.63 L110.41 196.38 L110.54 193.54 L110.68 191.10 L110.81 189.04 L110.95 187.32 L111.09 185.94 L111.22 184.86 L111.36 184.07 L111.49 183.52 L111.63 183.19 L111.76 183.03 L111.90 183.00 L112.05 183.01 L112.25 183.10 L112.45 183.38 L112.65 183.91 L112.85 184.75 L113.05 185.89 L113.25 187.30 L113.45 188.90 L113.65 190.62 L113.85 192.35 L114.05 194.03 L114.25 195.61 L114.45 197.04 L114.65 198.32 L114.85 199.45 L115.05 200.44 L115.25 201.30 L115.45 202.04 L115.65 202.68 L115.85 203.23 L116.05 203.71 L116.25 204.12 L116.45 204.48 L116.65 204.79 L116.85 205.06 L117.05 205.30 L117.25 205.50 L117.45 205.69 L117.65 205.85 L117.85 205.99 L118.05 206.12 L118.25 206.23 L118.45 206.33 L118.65 206.42 L118.85 206.50 L119.05 206.57 L119.25 206.64 L119.45 206.70 L119.65 206.75 L119.85 206.80 L120.05 206.84 L120.25 206.88 L120.45 206.92 L120.65 206.95 L120.85 206.98 L121.05 207.01 L121.25 207.04 L121.45 207.06 L121.65 207.08 L121.85 207.11 L122.05 207.12 L122.25 207.14 L122.45 207.16 L122.65 207.17 L122.85 207.19 L123.05 207.20 L123.25 207.21 L123.45 207.23 L123.65 207.24 L123.85 207.25 L124.05 207.26 L124.25 207.26 L124.45 207.27 L124.65 207.28 L124.85 207.29 L125.05 207.30 L125.25 207.30 L125.45 207.31 L125.65 207.31 L125.85 207.32 L126.05 207.32 L126.25 207.33 L126.45 207.33 L126.65 207.34 L126.85 207.34 L127.05 207.35 L127.25 207.35 L127.45 207.35 L127.65 207.36 L127.85 207.36 L128.05 207.36 L128.25 207.37 L128.45 207.37 L128.65 207.37 L128.85 207.38 L129.05 207.38 L129.25 207.38 L129.45 207.38 L129.65 207.38 L129.85 207.39 L130.05 207.39 L130.25 207.39 L130.45 207.39 L130.65 207.39 L130.85 207.40 L131.05 207.40 L131.25 207.40 L131.45 207.40 L131.65 207.40 L131.85 207.40 L132.05 207.40 L132.25 207.41 L132.45 207.41 L132.65 207.41 L132.85 207.41 L133.05 207.41 L133.25 207.41 L133.45 207.41 L133.65 207.41 L133.85 207.41 L134.05 207.42 L134.25 207.42 L134.45 207.42 L134.65 207.42 L134.85 207.42 L135.05 207.42 L135.25 207.42 L135.45 207.42 L135.65 207.42 L135.85 207.42 L136.05 207.42 L136.25 207.42 L136.45 207.42 L136.65 207.43 L136.85 207.43 L137.05 207.43 L137.25 207.43 L137.45 207.43 L137.65 207.43 L137.85 207.43 L138.00 207.45"/>
<path d="M173.20 207.10 L180.00 207.10 L180.16 205.39 L180.32 202.94 L180.49 200.19 L180.65 197.31 L180.81 194.46 L180.97 191.74 L181.13 189.26 L181.30 187.11 L181.46 185.36 L181.62 184.06 L181.78 183.27 L181.94 183.00 L182.17 183.13 L182.39 183.53 L182.62 184.20 L182.84 185.10 L183.06 186.24 L183.29 187.60 L183.51 189.14 L183.73 190.85 L183.96 192.69 L184.18 194.64 L184.41 196.65 L184.63 198.70 L184.79 197.25 L184.95 195.16 L185.12 192.82 L185.28 190.37 L185.44 187.95 L185.60 185.64 L185.76 183.53 L185.93 181.70 L186.09 180.21 L186.25 179.10 L186.41 178.43 L186.57 178.20 L186.80 178.36 L187.02 178.82 L187.25 179.59 L187.47 180.65 L187.69 181.98 L187.92 183.56 L188.14 185.36 L188.36 187.35 L188.59 189.50 L188.81 191.76 L189.04 194.11 L189.26 196.50 L189.42 195.13 L189.58 193.17 L189.75 190.96 L189.91 188.66 L190.07 186.38 L190.23 184.20 L190.39 182.22 L190.56 180.49 L190.72 179.09 L190.88 178.05 L191.04 177.41 L191.20 177.20 L191.43 177.36 L191.65 177.85 L191.88 178.65 L192.10 179.75 L192.32 181.13 L192.55 182.76 L192.77 184.63 L192.99 186.70 L193.22 188.93 L193.44 191.28 L193.67 193.72 L193.89 196.20 L194.05 194.84 L194.21 192.89 L194.38 190.69 L194.54 188.40 L194.70 186.13 L194.86 183.96 L195.02 181.99 L195.19 180.27 L195.35 178.88 L195.51 177.85 L195.67 177.21 L195.83 177.00 L196.06 177.16 L196.28 177.65 L196.51 178.46 L196.73 179.57 L196.95 180.97 L197.18 182.62 L197.40 184.51 L197.62 186.60 L197.85 188.85 L198.07 191.23 L198.30 193.69 L198.52 196.20 L198.68 194.84 L198.84 192.89 L199.01 190.69 L199.17 188.40 L199.33 186.13 L199.49 183.96 L199.65 181.99 L199.82 180.27 L199.98 178.88 L200.14 177.85 L200.30 177.21 L200.46 177.00 L200.69 177.16 L200.91 177.65 L201.14 178.46 L201.36 179.57 L201.58 180.97 L201.81 182.62 L202.03 184.51 L202.25 186.60 L202.48 188.85 L202.70 191.23 L202.93 193.69 L203.15 196.20 L203.31 194.87 L203.47 192.97 L203.64 190.84 L203.80 188.61 L203.96 186.39 L204.12 184.28 L204.28 182.36 L204.45 180.69 L204.61 179.33 L204.77 178.32 L204.93 177.71 L205.09 177.50 L205.32 177.66 L205.54 178.15 L205.77 178.95 L205.99 180.05 L206.21 181.43 L206.44 183.06 L206.66 184.93 L206.88 187.00 L207.11 189.23 L207.33 191.58 L207.56 194.02 L207.78 196.50 L207.94 195.24 L208.10 193.43 L208.27 191.39 L208.43 189.27 L208.59 187.16 L208.75 185.16 L208.91 183.33 L209.08 181.74 L209.24 180.44 L209.40 179.48 L209.56 178.90 L209.72 178.70 L209.72 178.70 L209.87 178.70 L210.02 178.71 L210.17 178.74 L210.32 178.82 L210.47 178.95 L210.62 179.17 L210.77 179.48 L210.92 179.91 L211.07 180.46 L211.22 181.16 L211.37 181.99 L211.52 182.95 L211.67 184.03 L211.82 185.21 L211.97 186.46 L212.12 187.76 L212.27 189.07 L212.42 190.38 L212.57 191.66 L212.72 192.90 L212.87 194.08 L213.02 195.18 L213.17 196.21 L213.32 197.17 L213.47 198.04 L213.62 198.84 L213.77 199.58 L213.92 200.24 L214.07 200.84 L214.22 201.38 L214.37 201.88 L214.52 202.32 L214.67 202.72 L214.82 203.09 L214.97 203.41 L215.12 203.71 L215.27 203.98 L215.42 204.22 L215.57 204.44 L215.72 204.64 L215.87 204.82 L216.02 204.99 L216.17 205.14 L216.32 205.28 L216.47 205.40 L216.62 205.52 L216.77 205.63 L216.92 205.72 L217.07 205.81 L217.22 205.89 L217.37 205.97 L217.52 206.04 L217.67 206.10 L217.82 206.16 L217.97 206.22 L218.12 206.27 L218.27 206.32 L218.42 206.36 L218.57 206.40 L218.72 206.44 L218.87 206.47 L219.02 206.51 L219.17 206.54 L219.32 206.57 L219.47 206.59 L219.62 206.62 L219.77 206.64 L219.92 206.66 L220.07 206.68 L220.22 206.70 L220.37 206.72 L220.52 206.74 L220.67 206.76 L220.82 206.77 L220.97 206.79 L221.12 206.80 L221.27 206.81 L221.42 206.82 L221.57 206.84 L221.72 206.85 L221.87 206.86 L222.02 206.87 L222.17 206.88 L222.32 206.89 L222.47 206.89 L222.62 206.90 L222.77 206.91 L222.92 206.92 L223.07 206.92 L223.22 206.93 L223.37 206.94 L223.52 206.94 L223.67 206.95 L223.82 206.95 L223.97 206.96 L224.12 206.96 L224.27 206.97 L224.42 206.97 L224.57 206.98 L224.72 206.98 L224.87 206.99 L225.02 206.99 L225.17 206.99 L225.32 207.00 L225.47 207.00 L225.62 207.00 L225.77 207.01 L225.92 207.01 L226.07 207.01 L226.22 207.01 L226.37 207.02 L226.52 207.02 L226.67 207.02 L226.82 207.02 L226.97 207.03 L227.12 207.03 L227.27 207.03 L227.42 207.03 L227.57 207.03 L227.72 207.04 L227.87 207.04 L228.02 207.04 L228.17 207.04 L228.32 207.04 L228.47 207.04 L228.62 207.05 L228.77 207.05 L228.92 207.05 L229.07 207.05 L229.22 207.05 L229.37 207.05 L229.52 207.05 L229.67 207.05 L229.82 207.06 L229.97 207.06 L230.12 207.06 L230.27 207.06 L230.42 207.06 L230.57 207.06 L230.72 207.06 L230.87 207.06 L231.02 207.06 L231.17 207.06 L231.32 207.07 L231.47 207.07 L231.62 207.07 L231.77 207.07 L231.92 207.07 L232.07 207.07 L232.22 207.07 L232.37 207.07 L232.52 207.07 L232.67 207.07 L232.82 207.07 L232.97 207.07 L233.12 207.07 L233.27 207.07 L233.42 207.07 L233.57 207.08 L233.72 207.08 L233.87 207.08 L234.02 207.08 L234.17 207.08 L234.32 207.08 L234.47 207.08 L234.62 207.08 L234.77 207.08 L234.92 207.08 L235.07 207.08 L235.22 207.08 L235.37 207.08 L235.52 207.08 L235.67 207.08 L235.82 207.08 L235.97 207.08 L236.12 207.08 L236.27 207.08 L236.42 207.08 L236.57 207.08 L236.72 207.08 L236.87 207.08 L237.02 207.08 L237.17 207.08 L237.32 207.08 L237.47 207.09 L237.62 207.09 L237.77 207.09 L237.92 207.09 L238.07 207.09 L238.22 207.09 L238.37 207.09 L238.52 207.09 L238.67 207.09 L238.82 207.09 L238.97 207.09 L239.12 207.09 L239.27 207.09 L239.42 207.09 L239.57 207.09 L239.72 207.09 L239.87 207.09 L240.02 207.09 L240.17 207.09 L240.32 207.09 L240.47 207.09 L240.62 207.09 L240.77 207.09 L240.92 207.09 L241.07 207.09 L241.22 207.09 L241.37 207.09 L241.52 207.09 L241.67 207.09 L241.82 207.09 L241.97 207.09 L242.12 207.09 L242.27 207.09 L242.42 207.09 L242.57 207.09 L242.72 207.09 L242.87 207.09 L243.02 207.09 L243.17 207.09 L243.32 207.09 L243.47 207.09 L243.62 207.09 L243.70 207.10"/>
<path d="M278.40 207.30 L285.80 207.30 L285.96 203.92 L286.12 199.72 L286.28 195.45 L286.44 191.47 L286.60 188.07 L286.76 185.48 L286.92 183.85 L287.08 183.30 L287.22 183.33 L287.35 183.43 L287.48 183.59 L287.61 183.80 L287.74 184.06 L287.87 184.35 L288.00 184.67 L288.13 185.00 L288.26 182.86 L288.38 180.20 L288.50 177.49 L288.63 174.97 L288.75 172.82 L288.87 171.18 L288.99 170.15 L289.12 169.80 L289.28 169.85 L289.45 170.01 L289.62 170.27 L289.79 170.62 L289.96 171.04 L290.13 171.53 L290.30 172.05 L290.47 172.60 L290.59 171.33 L290.72 169.74 L290.84 168.13 L290.96 166.63 L291.08 165.35 L291.21 164.37 L291.33 163.76 L291.45 163.55 L291.62 163.62 L291.79 163.85 L291.96 164.21 L292.13 164.69 L292.30 165.28 L292.47 165.96 L292.64 166.69 L292.81 167.45 L292.93 166.46 L293.05 165.23 L293.17 163.98 L293.30 162.82 L293.42 161.82 L293.54 161.06 L293.66 160.59 L293.79 160.43 L293.95 160.52 L294.12 160.81 L294.29 161.27 L294.46 161.89 L294.63 162.65 L294.80 163.51 L294.97 164.45 L295.14 165.43 L295.26 164.50 L295.39 163.35 L295.51 162.18 L295.63 161.10 L295.75 160.17 L295.88 159.46 L296.00 159.01 L296.12 158.86 L296.29 158.96 L296.46 159.24 L296.63 159.71 L296.80 160.33 L296.97 161.08 L297.14 161.95 L297.31 162.89 L297.47 163.86 L297.60 163.05 L297.72 162.04 L297.84 161.01 L297.97 160.05 L298.09 159.23 L298.21 158.61 L298.33 158.21 L298.46 158.08 L298.62 158.18 L298.79 158.46 L298.96 158.92 L299.13 159.55 L299.30 160.30 L299.47 161.17 L299.64 162.11 L299.81 163.08 L299.93 162.38 L300.06 161.50 L300.18 160.60 L300.30 159.77 L300.42 159.06 L300.55 158.52 L300.67 158.18 L300.79 158.07 L300.96 158.16 L301.13 158.45 L301.30 158.91 L301.47 159.53 L301.64 160.29 L301.81 161.15 L301.98 162.09 L302.14 163.07 L302.27 162.39 L302.39 161.54 L302.51 160.69 L302.64 159.89 L302.76 159.20 L302.88 158.68 L303.00 158.36 L303.13 158.25 L303.29 158.34 L303.46 158.63 L303.63 159.09 L303.80 159.71 L303.97 160.47 L304.14 161.33 L304.31 162.27 L304.48 163.25 L304.60 162.58 L304.73 161.76 L304.85 160.92 L304.97 160.13 L305.09 159.47 L305.22 158.96 L305.34 158.64 L305.46 158.53 L305.63 158.62 L305.80 158.91 L305.97 159.37 L306.14 159.99 L306.31 160.75 L306.48 161.62 L306.65 162.55 L306.81 163.53 L306.94 162.87 L307.06 162.05 L307.18 161.22 L307.31 160.45 L307.43 159.79 L307.55 159.28 L307.67 158.97 L307.80 158.86 L307.96 158.95 L308.13 159.24 L308.30 159.70 L308.47 160.32 L308.64 161.08 L308.81 161.95 L308.98 162.88 L309.15 163.86 L309.27 163.20 L309.40 162.39 L309.52 161.56 L309.64 160.79 L309.76 160.14 L309.89 159.63 L310.01 159.32 L310.13 159.21 L310.30 159.31 L310.47 159.59 L310.64 160.06 L310.81 160.68 L310.98 161.43 L311.15 162.30 L311.32 163.24 L311.48 164.21 L311.61 163.56 L311.73 162.75 L311.85 161.92 L311.98 161.16 L312.10 160.50 L312.22 160.00 L312.34 159.68 L312.47 159.58 L312.63 159.67 L312.80 159.96 L312.97 160.42 L313.14 161.04 L313.31 161.80 L313.48 162.66 L313.65 163.60 L313.82 164.58 L313.94 163.93 L314.07 163.12 L314.19 162.29 L314.31 161.52 L314.43 160.87 L314.56 160.37 L314.68 160.06 L314.80 159.95 L314.97 160.05 L315.14 160.33 L315.31 160.79 L315.48 161.41 L315.65 162.17 L315.82 163.04 L315.99 163.97 L316.15 164.95 L316.28 164.30 L316.40 163.49 L316.52 162.67 L316.65 161.90 L316.77 161.24 L316.89 160.74 L317.01 160.43 L317.14 160.33 L317.30 160.42 L317.47 160.71 L317.64 161.17 L317.81 161.79 L317.98 162.55 L318.15 163.41 L318.32 164.35 L318.49 165.33 L318.61 164.67 L318.74 163.86 L318.86 163.04 L318.98 162.27 L319.10 161.62 L319.23 161.12 L319.35 160.81 L319.47 160.70 L319.62 160.70 L319.82 160.74 L320.02 160.88 L320.22 161.22 L320.42 161.85 L320.62 162.86 L320.82 164.30 L321.02 166.20 L321.22 168.54 L321.42 171.24 L321.62 174.19 L321.82 177.26 L322.02 180.33 L322.22 183.29 L322.42 186.06 L322.62 188.60 L322.82 190.89 L323.02 192.92 L323.22 194.71 L323.42 196.26 L323.62 197.61 L323.82 198.78 L324.02 199.80 L324.22 200.67 L324.42 201.43 L324.62 202.09 L324.82 202.66 L325.02 203.15 L325.22 203.59 L325.42 203.96 L325.62 204.30 L325.82 204.59 L326.02 204.85 L326.22 205.07 L326.42 205.27 L326.62 205.45 L326.82 205.61 L327.02 205.75 L327.22 205.88 L327.42 206.00 L327.62 206.10 L327.82 206.19 L328.02 206.28 L328.22 206.35 L328.42 206.42 L328.62 206.48 L328.82 206.54 L329.02 206.59 L329.22 206.64 L329.42 206.68 L329.62 206.72 L329.82 206.76 L330.02 206.79 L330.22 206.82 L330.42 206.85 L330.62 206.88 L330.82 206.90 L331.02 206.93 L331.22 206.95 L331.42 206.97 L331.62 206.99 L331.82 207.00 L332.02 207.02 L332.22 207.03 L332.42 207.05 L332.62 207.06 L332.82 207.07 L333.02 207.08 L333.22 207.09 L333.42 207.10 L333.62 207.11 L333.82 207.12 L334.02 207.13 L334.22 207.14 L334.42 207.14 L334.62 207.15 L334.82 207.16 L335.02 207.16 L335.22 207.17 L335.42 207.17 L335.62 207.18 L335.82 207.18 L336.02 207.19 L336.22 207.19 L336.42 207.20 L336.62 207.20 L336.82 207.21 L337.02 207.21 L337.22 207.21 L337.42 207.22 L337.62 207.22 L337.82 207.22 L338.02 207.22 L338.22 207.23 L338.42 207.23 L338.62 207.23 L338.82 207.23 L339.02 207.24 L339.22 207.24 L339.42 207.24 L339.62 207.24 L339.82 207.25 L340.02 207.25 L340.22 207.25 L340.42 207.25 L340.62 207.25 L340.82 207.25 L341.02 207.25 L341.22 207.26 L341.42 207.26 L341.62 207.26 L341.82 207.26 L342.02 207.26 L342.22 207.26 L342.42 207.26 L342.62 207.26 L342.82 207.27 L343.02 207.27 L343.22 207.27 L343.42 207.27 L343.62 207.27 L343.82 207.27 L344.02 207.27 L344.22 207.27 L344.42 207.27 L344.62 207.27 L344.82 207.27 L345.02 207.27 L345.22 207.28 L345.42 207.28 L345.62 207.28 L345.82 207.28 L346.02 207.28 L346.22 207.28 L346.42 207.28 L346.62 207.28 L346.82 207.28 L347.02 207.28 L347.22 207.28 L347.42 207.28 L347.62 207.28 L347.82 207.28 L348.02 207.28 L348.22 207.28 L348.42 207.28 L348.62 207.28 L348.80 207.28"/>
<path d="M383.70 207.10 L391.20 207.10 L391.20 207.10 L391.30 204.99 L391.40 202.09 L391.50 199.14 L391.60 196.56 L391.70 194.65 L391.80 193.63 L391.90 192.63 L392.00 190.95 L392.10 189.39 L392.20 187.95 L392.30 186.62 L392.40 185.38 L392.50 184.23 L392.60 183.17 L392.70 182.19 L392.80 181.27 L392.90 180.41 L393.00 179.10 L393.10 177.63 L393.20 176.19 L393.30 174.83 L393.40 173.61 L393.50 172.55 L393.60 171.67 L393.70 170.90 L393.80 170.20 L393.90 169.57 L394.00 169.02 L394.10 168.52 L394.20 168.09 L394.30 167.71 L394.40 167.38 L394.50 167.09 L394.60 166.83 L394.70 166.19 L394.80 165.27 L394.90 164.35 L395.00 163.48 L395.10 162.71 L395.20 162.09 L395.30 161.62 L395.40 161.26 L395.50 160.95 L395.60 160.69 L395.70 160.49 L395.80 160.34 L395.90 160.24 L396.00 160.17 L396.10 160.14 L396.20 160.13 L396.30 160.14 L396.40 159.87 L396.50 159.21 L396.60 158.53 L396.70 157.88 L396.80 157.32 L396.90 156.88 L397.00 156.60 L397.10 156.42 L397.20 156.29 L397.30 156.21 L397.40 156.17 L397.50 156.18 L397.60 156.22 L397.70 156.30 L397.80 156.40 L397.90 156.53 L398.00 156.68 L398.10 156.61 L398.20 156.10 L398.30 155.53 L398.40 154.98 L398.50 154.51 L398.60 154.16 L398.70 153.95 L398.80 153.85 L398.90 153.80 L399.00 153.80 L399.10 153.84 L399.20 153.92 L399.30 154.04 L399.40 154.18 L399.50 154.36 L399.60 154.55 L399.70 154.75 L399.80 154.84 L399.90 154.40 L400.00 153.89 L400.10 153.39 L400.20 152.96 L400.30 152.64 L400.40 152.46 L400.50 152.40 L400.60 152.39 L400.70 152.42 L400.80 152.50 L400.90 152.61 L401.00 152.76 L401.10 152.94 L401.20 153.15 L401.30 153.37 L401.40 153.61 L401.50 153.81 L401.60 153.43 L401.70 152.95 L401.80 152.47 L401.90 152.06 L402.00 151.75 L402.10 151.57 L402.20 151.52 L402.30 151.53 L402.40 151.58 L402.50 151.67 L402.60 151.80 L402.70 151.97 L402.80 152.16 L402.90 152.38 L403.00 152.62 L403.10 152.88 L403.20 153.14 L403.30 152.83 L403.40 152.38 L403.50 151.92 L403.60 151.50 L403.70 151.19 L403.80 151.00 L403.90 150.96 L404.00 150.97 L404.10 151.03 L404.20 151.13 L404.30 151.26 L404.40 151.44 L404.50 151.64 L404.60 151.87 L404.70 152.12 L404.80 152.38 L404.90 152.65 L405.00 152.46 L405.10 152.02 L405.20 151.56 L405.30 151.15 L405.40 150.83 L405.50 150.63 L405.60 150.57 L405.70 150.59 L405.80 150.65 L405.90 150.75 L406.00 150.89 L406.10 151.06 L406.20 151.27 L406.30 151.50 L406.40 151.76 L406.50 152.03 L406.60 152.30 L406.70 152.21 L406.80 151.79 L406.90 151.34 L407.00 150.92 L407.10 150.60 L407.20 150.41 L407.30 150.35 L407.40 150.38 L407.50 150.45 L407.60 150.56 L407.70 150.72 L407.80 150.90 L407.90 151.12 L408.00 151.37 L408.10 151.64 L408.20 151.92 L408.30 152.22 L408.40 152.24 L408.50 151.86 L408.60 151.42 L408.70 151.01 L408.80 150.68 L408.90 150.47 L409.00 150.39 L409.10 150.42 L409.20 150.49 L409.30 150.60 L409.40 150.75 L409.50 150.93 L409.60 151.15 L409.70 151.40 L409.80 151.67 L409.90 151.95 L410.00 152.25 L410.10 152.37 L410.20 152.00 L410.30 151.57 L410.40 151.16 L410.50 150.81 L410.60 150.58 L410.70 150.49 L410.80 150.51 L410.90 150.57 L411.00 150.68 L411.10 150.83 L411.20 151.01 L411.30 151.23 L411.40 151.47 L411.50 151.74 L411.60 152.03 L411.70 152.33 L411.80 152.53 L411.90 152.19 L412.00 151.76 L412.10 151.34 L412.20 150.99 L412.30 150.74 L412.40 150.63 L412.50 150.64 L412.60 150.70 L412.70 150.80 L412.80 150.94 L412.90 151.12 L413.00 151.34 L413.10 151.58 L413.20 151.85 L413.30 152.13 L413.40 152.43 L413.50 152.71 L413.60 152.40 L413.70 151.98 L413.80 151.56 L413.90 151.19 L414.00 150.93 L414.10 150.80 L414.20 150.79 L414.30 150.85 L414.40 150.95 L414.50 151.09 L414.60 151.26 L414.70 151.47 L414.80 151.71 L414.90 151.98 L415.00 152.26 L415.10 152.56 L415.20 152.86 L415.30 152.63 L415.40 152.22 L415.50 151.80 L415.60 151.42 L415.70 151.14 L415.80 150.99 L415.90 150.97 L416.00 151.02 L416.10 151.11 L416.20 151.25 L416.30 151.42 L416.40 151.62 L416.50 151.86 L416.60 152.12 L416.70 152.41 L416.80 152.70 L416.90 153.01 L417.00 152.88 L417.10 152.48 L417.20 152.05 L417.30 151.66 L417.40 151.37 L417.50 151.19 L417.60 151.16 L417.70 151.21 L417.80 151.29 L417.90 151.42 L418.00 151.59 L418.10 151.79 L418.20 152.02 L418.30 152.28 L418.40 152.56 L418.50 152.86 L418.60 153.16 L418.70 153.13 L418.80 152.74 L418.90 152.32 L419.00 151.92 L419.10 151.61 L419.20 151.42 L419.30 151.37 L419.40 151.40 L419.50 151.48 L419.60 151.61 L419.70 151.77 L419.80 151.96 L419.90 152.19 L420.00 152.45 L420.10 152.73 L420.20 153.02 L420.30 153.33 L420.40 153.39 L420.50 153.02 L420.60 152.59 L420.70 152.19 L420.80 151.86 L420.90 151.65 L421.00 151.58 L421.10 151.61 L421.20 151.68 L421.30 151.80 L421.40 151.96 L421.50 152.15 L421.60 152.37 L421.70 152.63 L421.80 152.90 L421.90 153.19 L422.00 153.50 L422.10 153.65 L422.20 153.30 L422.30 152.87 L422.40 152.46 L422.50 152.12 L422.60 151.89 L422.70 151.80 L422.80 151.82 L422.90 151.89 L423.00 152.00 L423.10 152.15 L423.20 152.34 L423.30 152.56 L423.40 152.81 L423.50 153.08 L423.60 153.37 L423.70 153.67 L423.80 153.91 L423.90 153.58 L424.00 153.16 L424.10 152.74 L424.20 152.39 L424.30 152.14 L424.40 152.02 L424.50 152.04 L424.60 152.10 L424.70 152.20 L424.80 152.35 L424.90 152.53 L425.00 152.75 L425.10 152.99 L425.20 153.26 L425.30 153.55 L425.40 153.85 L425.50 154.16 L425.60 153.86 L425.70 153.45 L425.80 153.03 L425.90 152.66 L426.00 152.40 L426.00 152.40 L426.15 152.40 L426.30 152.41 L426.45 152.46 L426.60 152.58 L426.75 152.79 L426.90 153.12 L427.05 153.61 L427.20 154.28 L427.35 155.16 L427.50 156.26 L427.65 157.60 L427.80 159.17 L427.95 160.96 L428.10 162.94 L428.25 165.08 L428.40 167.34 L428.55 169.68 L428.70 172.06 L428.85 174.43 L429.00 176.76 L429.15 179.02 L429.30 181.18 L429.45 183.23 L429.60 185.15 L429.75 186.95 L429.90 188.61 L430.05 190.15 L430.20 191.56 L430.35 192.85 L430.50 194.04 L430.65 195.11 L430.80 196.09 L430.95 196.98 L431.10 197.79 L431.25 198.53 L431.40 199.20 L431.55 199.81 L431.70 200.36 L431.85 200.87 L432.00 201.33 L432.15 201.75 L432.30 202.13 L432.45 202.48 L432.60 202.80 L432.75 203.09 L432.90 203.36 L433.05 203.61 L433.20 203.84 L433.35 204.04 L433.50 204.24 L433.65 204.41 L433.80 204.58 L433.95 204.73 L434.10 204.87 L434.25 205.00 L434.40 205.12 L434.55 205.23 L434.70 205.33 L434.85 205.43 L435.00 205.52 L435.15 205.60 L435.30 205.68 L435.45 205.76 L435.60 205.82 L435.75 205.89 L435.90 205.95 L436.05 206.01 L436.20 206.06 L436.35 206.11 L436.50 206.15 L436.65 206.20 L436.80 206.24 L436.95 206.28 L437.10 206.31 L437.25 206.35 L437.40 206.38 L437.55 206.41 L437.70 206.44 L437.85 206.47 L438.00 206.50 L438.15 206.52 L438.30 206.54 L438.45 206.57 L438.60 206.59 L438.75 206.61 L438.90 206.63 L439.05 206.64 L439.20 206.66 L439.35 206.68 L439.50 206.69 L439.65 206.71 L439.80 206.72 L439.95 206.74 L440.10 206.75 L440.25 206.76 L440.40 206.77 L440.55 206.78 L440.70 206.80 L440.85 206.81 L441.00 206.82 L441.15 206.82 L441.30 206.83 L441.45 206.84 L441.60 206.85 L441.75 206.86 L441.90 206.87 L442.05 206.87 L442.20 206.88 L442.35 206.89 L442.50 206.89 L442.65 206.90 L442.80 206.91 L442.95 206.91 L443.10 206.92 L443.25 206.92 L443.40 206.93 L443.55 206.93 L443.70 206.94 L443.85 206.94 L444.00 206.95 L444.15 206.95 L444.30 206.95 L444.45 206.96 L444.60 206.96 L444.75 206.97 L444.90 206.97 L445.05 206.97 L445.20 206.98 L445.35 206.98 L445.50 206.98 L445.65 206.99 L445.80 206.99 L445.95 206.99 L446.10 206.99 L446.25 207.00 L446.40 207.00 L446.55 207.00 L446.70 207.00 L446.85 207.01 L447.00 207.01 L447.15 207.01 L447.30 207.01 L447.45 207.02 L447.60 207.02 L447.75 207.02 L447.90 207.02 L448.05 207.02 L448.20 207.02 L448.35 207.03 L448.50 207.03 L448.65 207.03 L448.80 207.03 L448.95 207.03 L449.10 207.03 L449.25 207.04 L449.40 207.04 L449.55 207.04 L449.70 207.04 L449.85 207.04 L450.00 207.04 L450.15 207.04 L450.30 207.04 L450.45 207.05 L450.60 207.05 L450.75 207.05 L450.90 207.05 L451.05 207.05 L451.20 207.05 L451.35 207.05 L451.50 207.05 L451.65 207.05 L451.80 207.05 L451.95 207.06 L452.10 207.06 L452.25 207.06 L452.40 207.06 L452.55 207.06 L452.70 207.06 L452.85 207.06 L453.00 207.06 L453.15 207.06 L453.30 207.06 L453.45 207.06 L453.60 207.06 L453.75 207.06 L453.90 207.07 L454.00 207.07"/>
<path d="M489.30 207.10 L496.50 207.10 L496.50 207.10 L496.75 200.35 L497.00 194.35 L497.25 189.02 L497.50 184.27 L497.75 180.04 L498.00 176.28 L498.25 172.92 L498.50 169.93 L498.75 167.25 L499.00 164.86 L499.25 162.73 L499.50 160.81 L499.75 159.10 L500.00 157.56 L500.25 156.18 L500.50 154.94 L500.75 153.83 L501.00 152.82 L501.25 151.91 L501.50 151.09 L501.75 150.35 L502.00 149.68 L502.25 149.07 L502.50 148.52 L502.75 148.02 L503.00 147.56 L503.25 147.14 L503.50 146.76 L503.75 146.41 L504.00 146.09 L504.25 145.80 L504.50 145.52 L504.75 145.28 L505.00 145.05 L505.25 144.83 L505.50 144.64 L505.75 144.46 L506.00 144.29 L506.25 144.13 L506.50 143.98 L506.75 143.85 L507.00 143.72 L507.25 143.60 L507.50 143.49 L507.75 143.39 L508.00 143.29 L508.25 143.20 L508.50 143.11 L508.75 143.03 L509.00 142.95 L509.25 142.88 L509.50 142.81 L509.75 142.75 L510.00 142.69 L510.25 142.63 L510.50 142.58 L510.75 142.53 L511.00 142.48 L511.25 142.43 L511.50 142.39 L511.75 142.35 L512.00 142.31 L512.25 142.28 L512.50 142.26 L512.75 142.24 L513.00 142.23 L513.25 142.21 L513.50 142.20 L513.75 142.18 L514.00 142.17 L514.25 142.16 L514.50 142.15 L514.75 142.14 L515.00 142.14 L515.25 142.13 L515.50 142.13 L515.75 142.12 L516.00 142.12 L516.25 142.12 L516.50 142.11 L516.75 142.11 L517.00 142.11 L517.25 142.11 L517.50 142.12 L517.75 142.12 L518.00 142.12 L518.25 142.12 L518.50 142.13 L518.75 142.13 L519.00 142.13 L519.25 142.14 L519.50 142.15 L519.75 142.15 L520.00 142.16 L520.25 142.16 L520.50 142.17 L520.75 142.18 L521.00 142.19 L521.25 142.19 L521.50 142.20 L521.75 142.21 L522.00 142.22 L522.25 142.23 L522.50 142.24 L522.75 142.25 L523.00 142.26 L523.25 142.27 L523.50 142.28 L523.75 142.29 L524.00 142.30 L524.25 142.31 L524.50 142.32 L524.75 142.33 L525.00 142.35 L525.25 142.36 L525.50 142.37 L525.75 142.38 L526.00 142.39 L526.25 142.41 L526.50 142.42 L526.75 142.43 L527.00 142.44 L527.25 142.46 L527.50 142.47 L527.75 142.48 L528.00 142.49 L528.25 142.51 L528.50 142.52 L528.75 142.53 L529.00 142.55 L529.25 142.56 L529.50 142.57 L529.75 142.59 L530.00 142.60 L530.25 142.61 L530.50 142.63 L530.50 142.63 L530.65 142.63 L530.80 142.65 L530.95 142.71 L531.10 142.84 L531.25 143.09 L531.40 143.48 L531.55 144.05 L531.70 144.84 L531.85 145.88 L532.00 147.18 L532.15 148.76 L532.30 150.61 L532.45 152.72 L532.60 155.06 L532.75 157.58 L532.90 160.24 L533.05 163.00 L533.20 165.80 L533.35 168.60 L533.50 171.34 L533.65 174.00 L533.80 176.55 L533.95 178.96 L534.10 181.23 L534.25 183.35 L534.40 185.31 L534.55 187.12 L534.70 188.79 L534.85 190.31 L535.00 191.70 L535.15 192.97 L535.30 194.13 L535.45 195.18 L535.60 196.13 L535.75 197.00 L535.90 197.79 L536.05 198.51 L536.20 199.16 L536.35 199.75 L536.50 200.30 L536.65 200.79 L536.80 201.24 L536.95 201.65 L537.10 202.03 L537.25 202.38 L537.40 202.69 L537.55 202.98 L537.70 203.25 L537.85 203.50 L538.00 203.72 L538.15 203.93 L538.30 204.13 L538.45 204.30 L538.60 204.47 L538.75 204.62 L538.90 204.76 L539.05 204.90 L539.20 205.02 L539.35 205.13 L539.50 205.24 L539.65 205.34 L539.80 205.43 L539.95 205.52 L540.10 205.60 L540.25 205.67 L540.40 205.74 L540.55 205.81 L540.70 205.87 L540.85 205.93 L541.00 205.99 L541.15 206.04 L541.30 206.09 L541.45 206.13 L541.60 206.17 L541.75 206.21 L541.90 206.25 L542.05 206.29 L542.20 206.32 L542.35 206.36 L542.50 206.39 L542.65 206.42 L542.80 206.44 L542.95 206.47 L543.10 206.50 L543.25 206.52 L543.40 206.54 L543.55 206.56 L543.70 206.58 L543.85 206.60 L544.00 206.62 L544.15 206.64 L544.30 206.66 L544.45 206.67 L544.60 206.69 L544.75 206.70 L544.90 206.71 L545.05 206.73 L545.20 206.74 L545.35 206.75 L545.50 206.76 L545.65 206.78 L545.80 206.79 L545.95 206.80 L546.10 206.81 L546.25 206.82 L546.40 206.82 L546.55 206.83 L546.70 206.84 L546.85 206.85 L547.00 206.86 L547.15 206.86 L547.30 206.87 L547.45 206.88 L547.60 206.88 L547.75 206.89 L547.90 206.90 L548.05 206.90 L548.20 206.91 L548.35 206.91 L548.50 206.92 L548.65 206.92 L548.80 206.93 L548.95 206.93 L549.10 206.94 L549.25 206.94 L549.40 206.95 L549.55 206.95 L549.70 206.95 L549.85 206.96 L550.00 206.96 L550.15 206.97 L550.30 206.97 L550.45 206.97 L550.60 206.98 L550.75 206.98 L550.90 206.98 L551.05 206.98 L551.20 206.99 L551.35 206.99 L551.50 206.99 L551.65 207.00 L551.80 207.00 L551.95 207.00 L552.10 207.00 L552.25 207.00 L552.40 207.01 L552.55 207.01 L552.70 207.01 L552.85 207.01 L553.00 207.02 L553.15 207.02 L553.30 207.02 L553.45 207.02 L553.60 207.02 L553.75 207.02 L553.90 207.03 L554.05 207.03 L554.20 207.03 L554.35 207.03 L554.50 207.03 L554.65 207.03 L554.80 207.03 L554.95 207.04 L555.10 207.04 L555.25 207.04 L555.40 207.04 L555.55 207.04 L555.70 207.04 L555.85 207.04 L556.00 207.04 L556.15 207.05 L556.30 207.05 L556.45 207.05 L556.60 207.05 L556.75 207.05 L556.90 207.05 L557.05 207.05 L557.20 207.05 L557.35 207.05 L557.50 207.05 L557.65 207.06 L557.80 207.06 L557.95 207.06 L558.10 207.06 L558.25 207.06 L558.40 207.06 L558.55 207.06 L558.70 207.06 L558.85 207.06 L559.00 207.06 L559.15 207.06 L559.30 207.06"/>
<path d="M594.40 207.10 L602.00 207.10 L602.00 207.10 L602.25 199.99 L602.50 193.67 L602.75 188.05 L603.00 183.05 L603.25 178.60 L603.50 174.63 L603.75 171.10 L604.00 167.94 L604.25 165.13 L604.50 162.61 L604.75 160.36 L605.00 158.34 L605.25 156.54 L605.50 154.92 L605.75 153.47 L606.00 152.16 L606.25 150.98 L606.50 149.92 L606.75 148.97 L607.00 148.11 L607.25 147.32 L607.50 146.62 L607.75 145.98 L608.00 145.39 L608.25 144.86 L608.50 144.38 L608.75 143.94 L609.00 143.54 L609.25 143.17 L609.50 142.83 L609.75 142.52 L610.00 142.24 L610.25 141.98 L610.50 141.74 L610.75 141.51 L611.00 141.30 L611.25 141.11 L611.50 140.94 L611.75 140.77 L612.00 140.62 L612.25 140.47 L612.50 140.34 L612.75 140.21 L613.00 140.10 L613.25 139.99 L613.50 139.88 L613.75 139.79 L614.00 139.70 L614.25 139.61 L614.50 139.53 L614.75 139.45 L615.00 139.38 L615.25 139.32 L615.50 139.25 L615.75 139.19 L616.00 139.13 L616.25 139.08 L616.50 139.03 L616.75 138.98 L617.00 138.93 L617.25 138.89 L617.50 138.85 L617.75 138.81 L618.00 138.77 L618.25 138.75 L618.50 138.72 L618.75 138.70 L619.00 138.68 L619.25 138.66 L619.50 138.64 L619.75 138.63 L620.00 138.61 L620.25 138.60 L620.50 138.58 L620.75 138.57 L621.00 138.56 L621.25 138.55 L621.50 138.54 L621.75 138.54 L622.00 138.53 L622.25 138.52 L622.50 138.52 L622.75 138.51 L623.00 138.51 L623.25 138.50 L623.50 138.50 L623.75 138.50 L624.00 138.50 L624.25 138.50 L624.50 138.50 L624.75 138.50 L625.00 138.50 L625.25 138.50 L625.50 138.50 L625.75 138.50 L626.00 138.50 L626.25 138.50 L626.50 138.51 L626.75 138.51 L627.00 138.51 L627.25 138.52 L627.50 138.52 L627.75 138.53 L628.00 138.53 L628.25 138.53 L628.50 138.54 L628.75 138.54 L629.00 138.55 L629.25 138.56 L629.50 138.56 L629.75 138.57 L630.00 138.57 L630.25 138.58 L630.50 138.59 L630.75 138.59 L631.00 138.60 L631.25 138.61 L631.50 138.62 L631.75 138.62 L632.00 138.63 L632.25 138.64 L632.50 138.65 L632.75 138.65 L633.00 138.66 L633.25 138.67 L633.50 138.68 L633.75 138.69 L634.00 138.69 L634.25 138.70 L634.50 138.71 L634.75 138.72 L635.00 138.73 L635.25 138.74 L635.50 138.75 L635.75 138.75 L636.00 138.76 L636.25 138.77 L636.50 138.78 L636.75 138.79 L637.00 138.80 L637.25 138.81 L637.50 138.82 L637.60 138.82 L637.75 138.82 L637.90 138.84 L638.05 138.90 L638.20 139.05 L638.35 139.31 L638.50 139.72 L638.65 140.33 L638.80 141.17 L638.95 142.26 L639.10 143.64 L639.25 145.32 L639.40 147.28 L639.55 149.51 L639.70 151.98 L639.85 154.65 L640.00 157.48 L640.15 160.40 L640.30 163.36 L640.45 166.32 L640.60 169.23 L640.75 172.04 L640.90 174.74 L641.05 177.30 L641.20 179.70 L641.35 181.95 L641.50 184.03 L641.65 185.94 L641.80 187.71 L641.95 189.32 L642.10 190.79 L642.25 192.14 L642.40 193.36 L642.55 194.47 L642.70 195.48 L642.85 196.40 L643.00 197.24 L643.15 198.00 L643.30 198.69 L643.45 199.32 L643.60 199.89 L643.75 200.42 L643.90 200.90 L644.05 201.33 L644.20 201.73 L644.35 202.10 L644.50 202.43 L644.65 202.74 L644.80 203.02 L644.95 203.29 L645.10 203.53 L645.25 203.75 L645.40 203.95 L645.55 204.14 L645.70 204.31 L645.85 204.48 L646.00 204.63 L646.15 204.77 L646.30 204.90 L646.45 205.02 L646.60 205.13 L646.75 205.23 L646.90 205.33 L647.05 205.42 L647.20 205.51 L647.35 205.59 L647.50 205.66 L647.65 205.73 L647.80 205.80 L647.95 205.86 L648.10 205.92 L648.25 205.97 L648.40 206.03 L648.55 206.07 L648.70 206.12 L648.85 206.16 L649.00 206.20 L649.15 206.24 L649.30 206.28 L649.45 206.31 L649.60 206.35 L649.75 206.38 L649.90 206.41 L650.05 206.43 L650.20 206.46 L650.35 206.48 L650.50 206.51 L650.65 206.53 L650.80 206.55 L650.95 206.57 L651.10 206.59 L651.25 206.61 L651.40 206.63 L651.55 206.65 L651.70 206.66 L651.85 206.68 L652.00 206.69 L652.15 206.71 L652.30 206.72 L652.45 206.73 L652.60 206.74 L652.75 206.76 L652.90 206.77 L653.05 206.78 L653.20 206.79 L653.35 206.80 L653.50 206.81 L653.65 206.82 L653.80 206.83 L653.95 206.83 L654.10 206.84 L654.25 206.85 L654.40 206.86 L654.55 206.86 L654.70 206.87 L654.85 206.88 L655.00 206.88 L655.15 206.89 L655.30 206.90 L655.45 206.90 L655.60 206.91 L655.75 206.91 L655.90 206.92 L656.05 206.92 L656.20 206.93 L656.35 206.93 L656.50 206.94 L656.65 206.94 L656.80 206.95 L656.95 206.95 L657.10 206.95 L657.25 206.96 L657.40 206.96 L657.55 206.96 L657.70 206.97 L657.85 206.97 L658.00 206.97 L658.15 206.98 L658.30 206.98 L658.45 206.98 L658.60 206.99 L658.75 206.99 L658.90 206.99 L659.05 206.99 L659.20 207.00 L659.35 207.00 L659.50 207.00 L659.65 207.00 L659.80 207.01 L659.95 207.01 L660.10 207.01 L660.25 207.01 L660.40 207.01 L660.55 207.02 L660.70 207.02 L660.85 207.02 L661.00 207.02 L661.15 207.02 L661.30 207.02 L661.45 207.03 L661.60 207.03 L661.75 207.03 L661.90 207.03 L662.05 207.03 L662.20 207.03 L662.35 207.03 L662.50 207.04 L662.65 207.04 L662.80 207.04 L662.95 207.04 L663.10 207.04 L663.25 207.04 L663.40 207.04 L663.55 207.04 L663.70 207.05 L663.85 207.05 L664.00 207.05 L664.15 207.05 L664.30 207.05 L664.45 207.05 L664.60 207.05 L664.75 207.05 L664.90 207.05 L665.00 207.05"/>
<path d="M103.10 318.75 L110.00 318.75 L110.11 316.59 L110.21 314.67 L110.32 312.98 L110.43 311.50 L110.54 310.22 L110.64 309.15 L110.75 308.25 L110.86 307.53 L110.96 306.97 L111.07 306.56 L111.18 306.27 L111.29 306.10 L111.39 306.02 L111.50 306.00 L111.65 306.01 L111.85 306.06 L112.05 306.22 L112.25 306.54 L112.45 307.03 L112.65 307.69 L112.85 308.49 L113.05 309.39 L113.25 310.33 L113.45 311.27 L113.65 312.16 L113.85 312.98 L114.05 313.72 L114.25 314.37 L114.45 314.93 L114.65 315.42 L114.85 315.84 L115.05 316.20 L115.25 316.51 L115.45 316.78 L115.65 317.00 L115.85 317.20 L116.05 317.37 L116.25 317.51 L116.45 317.64 L116.65 317.75 L116.85 317.85 L117.05 317.93 L117.25 318.01 L117.45 318.08 L117.65 318.13 L117.85 318.19 L118.05 318.23 L118.25 318.27 L118.45 318.31 L118.65 318.35 L118.85 318.38 L119.05 318.40 L119.25 318.43 L119.45 318.45 L119.65 318.47 L119.85 318.49 L120.05 318.51 L120.25 318.52 L120.45 318.54 L120.65 318.55 L120.85 318.56 L121.05 318.57 L121.25 318.58 L121.45 318.59 L121.65 318.60 L121.85 318.61 L122.05 318.62 L122.25 318.62 L122.45 318.63 L122.65 318.64 L122.85 318.64 L123.05 318.65 L123.25 318.65 L123.45 318.66 L123.65 318.66 L123.85 318.66 L124.05 318.67 L124.25 318.67 L124.45 318.68 L124.65 318.68 L124.85 318.68 L125.05 318.68 L125.25 318.69 L125.45 318.69 L125.65 318.69 L125.85 318.69 L126.05 318.70 L126.25 318.70 L126.45 318.70 L126.65 318.70 L126.85 318.70 L127.05 318.71 L127.25 318.71 L127.45 318.71 L127.65 318.71 L127.85 318.71 L128.05 318.71 L128.25 318.71 L128.45 318.72 L128.65 318.72 L128.85 318.72 L129.05 318.72 L129.25 318.72 L129.45 318.72 L129.65 318.72 L129.85 318.72 L130.05 318.72 L130.25 318.72 L130.45 318.73 L130.65 318.73 L130.85 318.73 L131.05 318.73 L131.25 318.73 L131.45 318.73 L131.65 318.73 L131.85 318.73 L132.05 318.73 L132.25 318.73 L132.45 318.73 L132.65 318.73 L132.85 318.73 L133.05 318.73 L133.25 318.73 L133.45 318.73 L133.65 318.73 L133.85 318.73 L134.05 318.74 L134.25 318.74 L134.45 318.74 L134.65 318.74 L134.85 318.74 L135.05 318.74 L135.25 318.74 L135.45 318.74 L135.65 318.74 L135.85 318.74 L136.05 318.74 L136.25 318.74 L136.45 318.74 L136.65 318.74 L136.85 318.74 L137.05 318.74 L137.25 318.74 L137.45 318.74 L137.65 318.74 L137.80 318.75"/>
<path d="M173.00 318.40 L180.00 318.40 L180.16 317.46 L180.32 316.12 L180.49 314.61 L180.65 313.04 L180.81 311.48 L180.97 309.99 L181.13 308.63 L181.30 307.45 L181.46 306.49 L181.62 305.78 L181.78 305.35 L181.94 305.20 L182.17 305.28 L182.39 305.51 L182.62 305.89 L182.84 306.42 L183.06 307.08 L183.29 307.87 L183.51 308.76 L183.73 309.75 L183.96 310.82 L184.18 311.94 L184.41 313.11 L184.63 314.30 L184.79 313.63 L184.95 312.68 L185.12 311.60 L185.28 310.48 L185.44 309.37 L185.60 308.31 L185.76 307.34 L185.93 306.50 L186.09 305.82 L186.25 305.31 L186.41 305.00 L186.57 304.90 L186.80 304.98 L187.02 305.22 L187.25 305.61 L187.47 306.15 L187.69 306.82 L187.92 307.62 L188.14 308.54 L188.36 309.55 L188.59 310.64 L188.81 311.79 L189.04 312.99 L189.26 314.20 L189.42 313.55 L189.58 312.61 L189.75 311.56 L189.91 310.46 L190.07 309.37 L190.23 308.34 L190.39 307.39 L190.56 306.57 L190.72 305.90 L190.88 305.41 L191.04 305.10 L191.20 305.00 L191.43 305.08 L191.65 305.32 L191.88 305.71 L192.10 306.25 L192.32 306.92 L192.55 307.72 L192.77 308.64 L192.99 309.65 L193.22 310.74 L193.44 311.89 L193.67 313.09 L193.89 314.30 L194.05 313.64 L194.21 312.70 L194.38 311.63 L194.54 310.52 L194.70 309.42 L194.86 308.37 L195.02 307.42 L195.19 306.59 L195.35 305.91 L195.51 305.41 L195.67 305.10 L195.83 305.00 L196.06 305.08 L196.28 305.32 L196.51 305.71 L196.73 306.25 L196.95 306.92 L197.18 307.72 L197.40 308.64 L197.62 309.65 L197.85 310.74 L198.07 311.89 L198.30 313.09 L198.52 314.30 L198.68 313.64 L198.84 312.70 L199.01 311.63 L199.17 310.52 L199.33 309.42 L199.49 308.37 L199.65 307.42 L199.82 306.59 L199.98 305.91 L200.14 305.41 L200.30 305.10 L200.46 305.00 L200.69 305.08 L200.91 305.32 L201.14 305.71 L201.36 306.25 L201.58 306.92 L201.81 307.72 L202.03 308.64 L202.25 309.65 L202.48 310.74 L202.70 311.89 L202.93 313.09 L203.15 314.30 L203.31 313.65 L203.47 312.71 L203.64 311.66 L203.80 310.56 L203.96 309.47 L204.12 308.44 L204.28 307.49 L204.45 306.67 L204.61 306.00 L204.77 305.51 L204.93 305.20 L205.09 305.10 L205.32 305.18 L205.54 305.41 L205.77 305.80 L205.99 306.33 L206.21 307.00 L206.44 307.79 L206.66 308.70 L206.88 309.70 L207.11 310.78 L207.33 311.92 L207.56 313.10 L207.78 314.30 L207.94 313.66 L208.10 312.75 L208.27 311.72 L208.43 310.64 L208.59 309.58 L208.75 308.56 L208.91 307.64 L209.08 306.83 L209.24 306.18 L209.40 305.70 L209.56 305.40 L209.72 305.30 L209.72 305.30 L209.87 305.30 L210.02 305.31 L210.17 305.34 L210.32 305.40 L210.47 305.51 L210.62 305.69 L210.77 305.95 L210.92 306.30 L211.07 306.74 L211.22 307.26 L211.37 307.86 L211.52 308.53 L211.67 309.24 L211.82 309.96 L211.97 310.69 L212.12 311.40 L212.27 312.07 L212.42 312.70 L212.57 313.29 L212.72 313.82 L212.87 314.30 L213.02 314.73 L213.17 315.12 L213.32 315.46 L213.47 315.76 L213.62 316.03 L213.77 316.27 L213.92 316.48 L214.07 316.67 L214.22 316.84 L214.37 316.98 L214.52 317.11 L214.67 317.23 L214.82 317.33 L214.97 317.43 L215.12 317.51 L215.27 317.58 L215.42 317.65 L215.57 317.71 L215.72 317.76 L215.87 317.81 L216.02 317.86 L216.17 317.90 L216.32 317.93 L216.47 317.97 L216.62 318.00 L216.77 318.03 L216.92 318.05 L217.07 318.07 L217.22 318.09 L217.37 318.11 L217.52 318.13 L217.67 318.15 L217.82 318.16 L217.97 318.18 L218.12 318.19 L218.27 318.20 L218.42 318.21 L218.57 318.22 L218.72 318.23 L218.87 318.24 L219.02 318.25 L219.17 318.26 L219.32 318.27 L219.47 318.27 L219.62 318.28 L219.77 318.29 L219.92 318.29 L220.07 318.30 L220.22 318.30 L220.37 318.31 L220.52 318.31 L220.67 318.31 L220.82 318.32 L220.97 318.32 L221.12 318.33 L221.27 318.33 L221.42 318.33 L221.57 318.33 L221.72 318.34 L221.87 318.34 L222.02 318.34 L222.17 318.34 L222.32 318.35 L222.47 318.35 L222.62 318.35 L222.77 318.35 L222.92 318.35 L223.07 318.36 L223.22 318.36 L223.37 318.36 L223.52 318.36 L223.67 318.36 L223.82 318.36 L223.97 318.36 L224.12 318.37 L224.27 318.37 L224.42 318.37 L224.57 318.37 L224.72 318.37 L224.87 318.37 L225.02 318.37 L225.17 318.37 L225.32 318.37 L225.47 318.37 L225.62 318.38 L225.77 318.38 L225.92 318.38 L226.07 318.38 L226.22 318.38 L226.37 318.38 L226.52 318.38 L226.67 318.38 L226.82 318.38 L226.97 318.38 L227.12 318.38 L227.27 318.38 L227.42 318.38 L227.57 318.38 L227.72 318.38 L227.87 318.38 L228.02 318.38 L228.17 318.39 L228.32 318.39 L228.47 318.39 L228.62 318.39 L228.77 318.39 L228.92 318.39 L229.07 318.39 L229.22 318.39 L229.37 318.39 L229.52 318.39 L229.67 318.39 L229.82 318.39 L229.97 318.39 L230.12 318.39 L230.27 318.39 L230.42 318.39 L230.57 318.39 L230.72 318.39 L230.87 318.39 L231.02 318.39 L231.17 318.39 L231.32 318.39 L231.47 318.39 L231.62 318.39 L231.77 318.39 L231.92 318.39 L232.07 318.39 L232.22 318.39 L232.37 318.39 L232.52 318.39 L232.67 318.39 L232.82 318.39 L232.97 318.39 L233.12 318.39 L233.27 318.39 L233.42 318.39 L233.57 318.39 L233.72 318.39 L233.87 318.39 L234.02 318.39 L234.17 318.39 L234.32 318.39 L234.47 318.39 L234.62 318.39 L234.77 318.39 L234.92 318.39 L235.07 318.40 L235.22 318.40 L235.37 318.40 L235.52 318.40 L235.67 318.40 L235.82 318.40 L235.97 318.40 L236.12 318.40 L236.27 318.40 L236.42 318.40 L236.57 318.40 L236.72 318.40 L236.87 318.40 L237.02 318.40 L237.17 318.40 L237.32 318.40 L237.47 318.40 L237.62 318.40 L237.77 318.40 L237.92 318.40 L238.07 318.40 L238.22 318.40 L238.37 318.40 L238.52 318.40 L238.67 318.40 L238.82 318.40 L238.97 318.40 L239.12 318.40 L239.27 318.40 L239.42 318.40 L239.57 318.40 L239.72 318.40 L239.87 318.40 L240.02 318.40 L240.17 318.40 L240.32 318.40 L240.47 318.40 L240.62 318.40 L240.77 318.40 L240.92 318.40 L241.07 318.40 L241.22 318.40 L241.37 318.40 L241.52 318.40 L241.67 318.40 L241.82 318.40 L241.97 318.40 L242.12 318.40 L242.27 318.40 L242.42 318.40 L242.57 318.40 L242.72 318.40 L242.87 318.40 L243.02 318.40 L243.17 318.40 L243.32 318.40 L243.47 318.40 L243.60 318.40"/>
<path d="M278.80 318.40 L285.80 318.40 L285.96 316.57 L286.12 314.29 L286.28 311.97 L286.44 309.82 L286.60 307.98 L286.76 306.57 L286.92 305.69 L287.08 305.39 L287.22 305.42 L287.35 305.49 L287.48 305.61 L287.61 305.77 L287.74 305.97 L287.87 306.19 L288.00 306.43 L288.13 306.68 L288.26 305.47 L288.38 303.97 L288.50 302.43 L288.63 301.00 L288.75 299.79 L288.87 298.86 L288.99 298.27 L289.12 298.07 L289.28 298.12 L289.45 298.24 L289.62 298.43 L289.79 298.70 L289.96 299.02 L290.13 299.39 L290.30 299.79 L290.47 300.20 L290.59 299.43 L290.72 298.46 L290.84 297.48 L290.96 296.56 L291.08 295.78 L291.21 295.19 L291.33 294.81 L291.45 294.69 L291.62 294.74 L291.79 294.91 L291.96 295.19 L292.13 295.56 L292.30 296.00 L292.47 296.52 L292.64 297.07 L292.81 297.65 L292.93 297.00 L293.05 296.18 L293.17 295.35 L293.30 294.58 L293.42 293.92 L293.54 293.42 L293.66 293.10 L293.79 292.99 L293.95 293.07 L294.12 293.28 L294.29 293.63 L294.46 294.11 L294.63 294.68 L294.80 295.34 L294.97 296.05 L295.14 296.79 L295.26 296.14 L295.39 295.33 L295.51 294.50 L295.63 293.73 L295.75 293.07 L295.88 292.57 L296.00 292.25 L296.12 292.15 L296.29 292.22 L296.46 292.44 L296.63 292.79 L296.80 293.26 L296.97 293.84 L297.14 294.49 L297.31 295.21 L297.47 295.95 L297.60 295.35 L297.72 294.61 L297.84 293.86 L297.97 293.16 L298.09 292.56 L298.21 292.11 L298.33 291.82 L298.46 291.72 L298.62 291.80 L298.79 292.01 L298.96 292.36 L299.13 292.84 L299.30 293.41 L299.47 294.07 L299.64 294.78 L299.81 295.52 L299.93 294.97 L300.06 294.28 L300.18 293.59 L300.30 292.93 L300.42 292.38 L300.55 291.96 L300.67 291.69 L300.79 291.60 L300.96 291.67 L301.13 291.89 L301.30 292.24 L301.47 292.71 L301.64 293.29 L301.81 293.95 L301.98 294.66 L302.14 295.40 L302.27 294.86 L302.39 294.19 L302.51 293.51 L302.64 292.88 L302.76 292.34 L302.88 291.93 L303.00 291.67 L303.13 291.58 L303.29 291.66 L303.46 291.87 L303.63 292.22 L303.80 292.70 L303.97 293.27 L304.14 293.93 L304.31 294.64 L304.48 295.38 L304.60 294.85 L304.73 294.19 L304.85 293.52 L304.97 292.90 L305.09 292.37 L305.22 291.96 L305.34 291.71 L305.46 291.62 L305.63 291.69 L305.80 291.91 L305.97 292.26 L306.14 292.73 L306.31 293.31 L306.48 293.96 L306.65 294.68 L306.81 295.42 L306.94 294.89 L307.06 294.24 L307.18 293.57 L307.31 292.95 L307.43 292.42 L307.55 292.02 L307.67 291.77 L307.80 291.68 L307.96 291.75 L308.13 291.97 L308.30 292.32 L308.47 292.79 L308.64 293.37 L308.81 294.03 L308.98 294.74 L309.15 295.48 L309.27 294.96 L309.40 294.31 L309.52 293.64 L309.64 293.02 L309.76 292.50 L309.89 292.10 L310.01 291.84 L310.13 291.76 L310.30 291.83 L310.47 292.05 L310.64 292.40 L310.81 292.87 L310.98 293.45 L311.15 294.10 L311.32 294.82 L311.48 295.56 L311.61 295.03 L311.73 294.38 L311.85 293.72 L311.98 293.10 L312.10 292.58 L312.22 292.18 L312.34 291.93 L312.47 291.84 L312.63 291.91 L312.80 292.13 L312.97 292.48 L313.14 292.95 L313.31 293.53 L313.48 294.19 L313.65 294.90 L313.82 295.64 L313.94 295.12 L314.07 294.47 L314.19 293.81 L314.31 293.19 L314.43 292.66 L314.56 292.26 L314.68 292.01 L314.80 291.93 L314.97 292.00 L315.14 292.21 L315.31 292.57 L315.48 293.04 L315.65 293.61 L315.82 294.27 L315.99 294.98 L316.15 295.73 L316.28 295.20 L316.40 294.55 L316.52 293.89 L316.65 293.28 L316.77 292.75 L316.89 292.35 L317.01 292.10 L317.14 292.01 L317.30 292.09 L317.47 292.30 L317.64 292.65 L317.81 293.13 L317.98 293.70 L318.15 294.36 L318.32 295.07 L318.49 295.81 L318.61 295.29 L318.74 294.64 L318.86 293.98 L318.98 293.36 L319.10 292.84 L319.23 292.44 L319.35 292.19 L319.47 292.10 L319.62 292.10 L319.82 292.12 L320.02 292.18 L320.22 292.33 L320.42 292.62 L320.62 293.07 L320.82 293.73 L321.02 294.62 L321.22 295.73 L321.42 297.04 L321.62 298.51 L321.82 300.08 L322.02 301.71 L322.22 303.32 L322.42 304.87 L322.62 306.34 L322.82 307.69 L323.02 308.91 L323.22 310.01 L323.42 310.99 L323.62 311.85 L323.82 312.60 L324.02 313.26 L324.22 313.84 L324.42 314.35 L324.62 314.79 L324.82 315.17 L325.02 315.51 L325.22 315.80 L325.42 316.06 L325.62 316.29 L325.82 316.49 L326.02 316.67 L326.22 316.83 L326.42 316.97 L326.62 317.10 L326.82 317.21 L327.02 317.31 L327.22 317.40 L327.42 317.48 L327.62 317.55 L327.82 317.61 L328.02 317.67 L328.22 317.73 L328.42 317.78 L328.62 317.82 L328.82 317.86 L329.02 317.90 L329.22 317.93 L329.42 317.96 L329.62 317.99 L329.82 318.02 L330.02 318.04 L330.22 318.06 L330.42 318.08 L330.62 318.10 L330.82 318.12 L331.02 318.13 L331.22 318.15 L331.42 318.16 L331.62 318.18 L331.82 318.19 L332.02 318.20 L332.22 318.21 L332.42 318.22 L332.62 318.23 L332.82 318.24 L333.02 318.24 L333.22 318.25 L333.42 318.26 L333.62 318.27 L333.82 318.27 L334.02 318.28 L334.22 318.28 L334.42 318.29 L334.62 318.29 L334.82 318.30 L335.02 318.30 L335.22 318.31 L335.42 318.31 L335.62 318.31 L335.82 318.32 L336.02 318.32 L336.22 318.32 L336.42 318.33 L336.62 318.33 L336.82 318.33 L337.02 318.34 L337.22 318.34 L337.42 318.34 L337.62 318.34 L337.82 318.34 L338.02 318.35 L338.22 318.35 L338.42 318.35 L338.62 318.35 L338.82 318.35 L339.02 318.36 L339.22 318.36 L339.42 318.36 L339.62 318.36 L339.82 318.36 L340.02 318.36 L340.22 318.36 L340.42 318.36 L340.62 318.37 L340.82 318.37 L341.02 318.37 L341.22 318.37 L341.42 318.37 L341.62 318.37 L341.82 318.37 L342.02 318.37 L342.22 318.37 L342.42 318.37 L342.62 318.37 L342.82 318.38 L343.02 318.38 L343.22 318.38 L343.42 318.38 L343.62 318.38 L343.82 318.38 L344.02 318.38 L344.22 318.38 L344.42 318.38 L344.62 318.38 L344.82 318.38 L345.02 318.38 L345.22 318.38 L345.42 318.38 L345.62 318.38 L345.82 318.38 L346.02 318.38 L346.22 318.38 L346.42 318.38 L346.62 318.39 L346.82 318.39 L347.02 318.39 L347.22 318.39 L347.42 318.39 L347.62 318.39 L347.82 318.39 L348.02 318.39 L348.22 318.39 L348.42 318.39 L348.62 318.39 L348.82 318.39 L348.90 318.39"/>
<path d="M384.60 318.40 L391.00 318.40 L391.00 318.40 L391.10 317.09 L391.20 315.30 L391.30 313.47 L391.40 311.87 L391.50 310.69 L391.60 310.06 L391.70 309.45 L391.80 308.42 L391.90 307.48 L392.00 306.64 L392.10 305.88 L392.20 305.19 L392.30 304.57 L392.40 304.01 L392.50 303.50 L392.60 303.04 L392.70 302.62 L392.80 301.73 L392.90 300.66 L393.00 299.60 L393.10 298.61 L393.20 297.74 L393.30 297.02 L393.40 296.47 L393.50 296.00 L393.60 295.60 L393.70 295.26 L393.80 294.97 L393.90 294.74 L394.00 294.56 L394.10 294.42 L394.20 294.32 L394.30 294.24 L394.40 294.20 L394.50 293.76 L394.60 293.04 L394.70 292.29 L394.80 291.60 L394.90 291.01 L395.00 290.55 L395.10 290.24 L395.20 290.03 L395.30 289.86 L395.40 289.75 L395.50 289.68 L395.60 289.66 L395.70 289.68 L395.80 289.73 L395.90 289.82 L396.00 289.92 L396.10 290.04 L396.20 289.86 L396.30 289.31 L396.40 288.72 L396.50 288.16 L396.60 287.69 L396.70 287.34 L396.80 287.13 L396.90 287.03 L397.00 286.98 L397.10 286.97 L397.20 287.00 L397.30 287.07 L397.40 287.18 L397.50 287.32 L397.60 287.49 L397.70 287.68 L397.80 287.87 L397.90 287.87 L398.00 287.40 L398.10 286.88 L398.20 286.39 L398.30 285.96 L398.40 285.66 L398.50 285.49 L398.60 285.44 L398.70 285.43 L398.80 285.47 L398.90 285.55 L399.00 285.66 L399.10 285.82 L399.20 286.00 L399.30 286.20 L399.40 286.43 L399.50 286.67 L399.60 286.79 L399.70 286.38 L399.80 285.90 L399.90 285.43 L400.00 285.02 L400.10 284.73 L400.20 284.57 L400.30 284.54 L400.40 284.55 L400.50 284.61 L400.60 284.71 L400.70 284.84 L400.80 285.02 L400.90 285.22 L401.00 285.44 L401.10 285.69 L401.20 285.94 L401.30 286.16 L401.40 285.80 L401.50 285.34 L401.60 284.88 L401.70 284.48 L401.80 284.18 L401.90 284.02 L402.00 283.99 L402.10 284.01 L402.20 284.08 L402.30 284.19 L402.40 284.33 L402.50 284.51 L402.60 284.72 L402.70 284.95 L402.80 285.21 L402.90 285.47 L403.00 285.75 L403.10 285.45 L403.20 285.01 L403.30 284.56 L403.40 284.16 L403.50 283.85 L403.60 283.68 L403.70 283.64 L403.80 283.66 L403.90 283.73 L404.00 283.84 L404.10 283.99 L404.20 284.17 L404.30 284.38 L404.40 284.62 L404.50 284.88 L404.60 285.15 L404.70 285.43 L404.80 285.24 L404.90 284.81 L405.00 284.36 L405.10 283.97 L405.20 283.66 L405.30 283.48 L405.40 283.45 L405.50 283.48 L405.60 283.56 L405.70 283.67 L405.80 283.83 L405.90 284.02 L406.00 284.25 L406.10 284.49 L406.20 284.76 L406.30 285.05 L406.40 285.34 L406.50 285.27 L406.60 284.87 L406.70 284.43 L406.80 284.03 L406.90 283.71 L407.00 283.52 L407.10 283.46 L407.20 283.49 L407.30 283.57 L407.40 283.68 L407.50 283.83 L407.60 284.02 L407.70 284.25 L407.80 284.49 L407.90 284.77 L408.00 285.05 L408.10 285.35 L408.20 285.37 L408.30 284.99 L408.40 284.55 L408.50 284.14 L408.60 283.81 L408.70 283.60 L408.80 283.53 L408.90 283.55 L409.00 283.62 L409.10 283.73 L409.20 283.88 L409.30 284.07 L409.40 284.29 L409.50 284.54 L409.60 284.81 L409.70 285.09 L409.80 285.39 L409.90 285.51 L410.00 285.14 L410.10 284.71 L410.20 284.29 L410.30 283.95 L410.40 283.72 L410.50 283.63 L410.60 283.65 L410.70 283.71 L410.80 283.82 L410.90 283.96 L411.00 284.15 L411.10 284.36 L411.20 284.61 L411.30 284.87 L411.40 285.16 L411.50 285.46 L411.60 285.66 L411.70 285.32 L411.80 284.89 L411.90 284.47 L412.00 284.12 L412.10 283.87 L412.20 283.75 L412.30 283.76 L412.40 283.82 L412.50 283.92 L412.60 284.06 L412.70 284.24 L412.80 284.46 L412.90 284.70 L413.00 284.96 L413.10 285.25 L413.20 285.54 L413.30 285.83 L413.40 285.51 L413.50 285.09 L413.60 284.67 L413.70 284.30 L413.80 284.03 L413.90 283.90 L414.00 283.90 L414.10 283.95 L414.20 284.05 L414.30 284.18 L414.40 284.36 L414.50 284.57 L414.60 284.80 L414.70 285.07 L414.80 285.35 L414.90 285.64 L415.00 285.95 L415.10 285.71 L415.20 285.30 L415.30 284.88 L415.40 284.50 L415.50 284.21 L415.60 284.06 L415.70 284.04 L415.80 284.09 L415.90 284.18 L416.00 284.31 L416.10 284.48 L416.20 284.69 L416.30 284.92 L416.40 285.18 L416.50 285.46 L416.60 285.76 L416.70 286.06 L416.80 285.93 L416.90 285.52 L417.00 285.10 L417.10 284.71 L417.20 284.41 L417.30 284.23 L417.40 284.20 L417.50 284.24 L417.60 284.33 L417.70 284.45 L417.80 284.62 L417.90 284.81 L418.00 285.05 L418.10 285.30 L418.20 285.58 L418.30 285.87 L418.40 286.18 L418.50 286.14 L418.60 285.75 L418.70 285.32 L418.80 284.93 L418.90 284.61 L419.00 284.42 L419.10 284.36 L419.20 284.40 L419.30 284.48 L419.40 284.60 L419.50 284.76 L419.60 284.95 L419.70 285.18 L419.80 285.43 L419.90 285.71 L420.00 286.00 L420.10 286.30 L420.20 286.36 L420.30 285.99 L420.40 285.56 L420.50 285.15 L420.60 284.82 L420.70 284.61 L420.80 284.53 L420.90 284.56 L421.00 284.63 L421.10 284.75 L421.20 284.90 L421.30 285.09 L421.40 285.31 L421.50 285.56 L421.60 285.84 L421.70 286.13 L421.80 286.43 L421.90 286.58 L422.00 286.22 L422.10 285.80 L422.20 285.38 L422.30 285.04 L422.40 284.81 L422.50 284.71 L422.60 284.73 L422.70 284.79 L422.80 284.90 L422.90 285.05 L423.00 285.24 L423.10 285.45 L423.20 285.70 L423.30 285.97 L423.40 286.26 L423.50 286.56 L423.60 286.79 L423.70 286.46 L423.80 286.04 L423.90 285.62 L424.00 285.26 L424.10 285.01 L424.20 284.89 L424.30 284.90 L424.40 284.96 L424.50 285.06 L424.60 285.20 L424.70 285.38 L424.80 285.60 L424.90 285.84 L425.00 286.11 L425.10 286.39 L425.20 286.69 L425.30 287.00 L425.40 286.69 L425.50 286.28 L425.50 286.28 L425.65 286.28 L425.80 286.29 L425.95 286.32 L426.10 286.39 L426.25 286.51 L426.40 286.70 L426.55 286.99 L426.70 287.38 L426.85 287.90 L427.00 288.55 L427.15 289.34 L427.30 290.26 L427.45 291.31 L427.60 292.47 L427.75 293.73 L427.90 295.06 L428.05 296.43 L428.20 297.83 L428.35 299.22 L428.50 300.58 L428.65 301.91 L428.80 303.18 L428.95 304.38 L429.10 305.51 L429.25 306.57 L429.40 307.55 L429.55 308.45 L429.70 309.28 L429.85 310.04 L430.00 310.73 L430.15 311.36 L430.30 311.94 L430.45 312.46 L430.60 312.94 L430.75 313.37 L430.90 313.76 L431.05 314.12 L431.20 314.44 L431.35 314.74 L431.50 315.01 L431.65 315.26 L431.80 315.48 L431.95 315.69 L432.10 315.87 L432.25 316.05 L432.40 316.20 L432.55 316.35 L432.70 316.48 L432.85 316.61 L433.00 316.72 L433.15 316.82 L433.30 316.92 L433.45 317.01 L433.60 317.09 L433.75 317.17 L433.90 317.24 L434.05 317.30 L434.20 317.36 L434.35 317.42 L434.50 317.47 L434.65 317.52 L434.80 317.57 L434.95 317.61 L435.10 317.65 L435.25 317.69 L435.40 317.72 L435.55 317.76 L435.70 317.79 L435.85 317.82 L436.00 317.84 L436.15 317.87 L436.30 317.89 L436.45 317.92 L436.60 317.94 L436.75 317.96 L436.90 317.98 L437.05 318.00 L437.20 318.01 L437.35 318.03 L437.50 318.04 L437.65 318.06 L437.80 318.07 L437.95 318.09 L438.10 318.10 L438.25 318.11 L438.40 318.12 L438.55 318.13 L438.70 318.14 L438.85 318.15 L439.00 318.16 L439.15 318.17 L439.30 318.18 L439.45 318.19 L439.60 318.19 L439.75 318.20 L439.90 318.21 L440.05 318.21 L440.20 318.22 L440.35 318.23 L440.50 318.23 L440.65 318.24 L440.80 318.24 L440.95 318.25 L441.10 318.25 L441.25 318.26 L441.40 318.26 L441.55 318.27 L441.70 318.27 L441.85 318.28 L442.00 318.28 L442.15 318.28 L442.30 318.29 L442.45 318.29 L442.60 318.29 L442.75 318.30 L442.90 318.30 L443.05 318.30 L443.20 318.30 L443.35 318.31 L443.50 318.31 L443.65 318.31 L443.80 318.31 L443.95 318.32 L444.10 318.32 L444.25 318.32 L444.40 318.32 L444.55 318.33 L444.70 318.33 L444.85 318.33 L445.00 318.33 L445.15 318.33 L445.30 318.33 L445.45 318.34 L445.60 318.34 L445.75 318.34 L445.90 318.34 L446.05 318.34 L446.20 318.34 L446.35 318.35 L446.50 318.35 L446.65 318.35 L446.80 318.35 L446.95 318.35 L447.10 318.35 L447.25 318.35 L447.40 318.35 L447.55 318.35 L447.70 318.36 L447.85 318.36 L448.00 318.36 L448.15 318.36 L448.30 318.36 L448.45 318.36 L448.60 318.36 L448.75 318.36 L448.90 318.36 L449.05 318.36 L449.20 318.36 L449.35 318.37 L449.50 318.37 L449.65 318.37 L449.80 318.37 L449.95 318.37 L450.10 318.37 L450.25 318.37 L450.40 318.37 L450.55 318.37 L450.70 318.37 L450.85 318.37 L451.00 318.37 L451.15 318.37 L451.30 318.37 L451.45 318.37 L451.60 318.37 L451.75 318.37 L451.90 318.38 L452.05 318.38 L452.20 318.38 L452.35 318.38 L452.50 318.38 L452.65 318.38 L452.80 318.38 L452.95 318.38 L453.10 318.38 L453.25 318.38 L453.40 318.38 L453.55 318.38 L453.70 318.38 L453.85 318.38 L454.00 318.38 L454.15 318.38 L454.30 318.38 L454.30 318.38"/>
<path d="M488.90 318.40 L496.50 318.40 L496.50 318.40 L496.75 313.13 L497.00 308.49 L497.25 304.40 L497.50 300.80 L497.75 297.63 L498.00 294.83 L498.25 292.36 L498.50 290.17 L498.75 288.24 L499.00 286.53 L499.25 285.01 L499.50 283.67 L499.75 282.47 L500.00 281.41 L500.25 280.46 L500.50 279.61 L500.75 278.86 L501.00 278.18 L501.25 277.58 L501.50 277.03 L501.75 276.55 L502.00 276.11 L502.25 275.71 L502.50 275.35 L502.75 275.03 L503.00 274.73 L503.25 274.46 L503.50 274.22 L503.75 274.00 L504.00 273.80 L504.25 273.61 L504.50 273.44 L504.75 273.28 L505.00 273.14 L505.25 273.01 L505.50 272.89 L505.75 272.77 L506.00 272.67 L506.25 272.57 L506.50 272.48 L506.75 272.39 L507.00 272.32 L507.25 272.24 L507.50 272.17 L507.75 272.11 L508.00 272.05 L508.25 271.99 L508.50 271.94 L508.75 271.89 L509.00 271.84 L509.25 271.80 L509.50 271.76 L509.75 271.72 L510.00 271.68 L510.25 271.66 L510.50 271.65 L510.75 271.63 L511.00 271.62 L511.25 271.60 L511.50 271.59 L511.75 271.58 L512.00 271.58 L512.25 271.57 L512.50 271.56 L512.75 271.56 L513.00 271.56 L513.25 271.55 L513.50 271.55 L513.75 271.55 L514.00 271.55 L514.25 271.55 L514.50 271.55 L514.75 271.56 L515.00 271.56 L515.25 271.56 L515.50 271.57 L515.75 271.57 L516.00 271.58 L516.25 271.58 L516.50 271.59 L516.75 271.60 L517.00 271.61 L517.25 271.61 L517.50 271.62 L517.75 271.63 L518.00 271.64 L518.25 271.65 L518.50 271.66 L518.75 271.67 L519.00 271.68 L519.25 271.69 L519.50 271.70 L519.75 271.71 L520.00 271.72 L520.25 271.73 L520.50 271.74 L520.75 271.76 L521.00 271.77 L521.25 271.78 L521.50 271.79 L521.75 271.81 L522.00 271.82 L522.25 271.83 L522.50 271.84 L522.75 271.86 L523.00 271.87 L523.25 271.88 L523.50 271.90 L523.75 271.91 L524.00 271.92 L524.25 271.94 L524.50 271.95 L524.75 271.97 L525.00 271.98 L525.25 271.99 L525.50 272.01 L525.75 272.02 L526.00 272.04 L526.25 272.05 L526.50 272.07 L526.75 272.08 L527.00 272.10 L527.25 272.11 L527.50 272.12 L527.75 272.14 L528.00 272.15 L528.25 272.17 L528.50 272.18 L528.75 272.20 L529.00 272.21 L529.25 272.23 L529.50 272.24 L529.75 272.26 L530.00 272.27 L530.25 272.29 L530.50 272.30 L530.60 272.30 L530.75 272.31 L530.90 272.33 L531.05 272.39 L531.20 272.52 L531.35 272.76 L531.50 273.15 L531.65 273.72 L531.80 274.49 L531.95 275.49 L532.10 276.73 L532.25 278.21 L532.40 279.91 L532.55 281.80 L532.70 283.84 L532.85 285.98 L533.00 288.18 L533.15 290.39 L533.30 292.57 L533.45 294.67 L533.60 296.68 L533.75 298.57 L533.90 300.34 L534.05 301.97 L534.20 303.46 L534.35 304.83 L534.50 306.07 L534.65 307.19 L534.80 308.21 L534.95 309.12 L535.10 309.95 L535.25 310.69 L535.40 311.36 L535.55 311.96 L535.70 312.50 L535.85 312.99 L536.00 313.43 L536.15 313.83 L536.30 314.19 L536.45 314.52 L536.60 314.81 L536.75 315.08 L536.90 315.32 L537.05 315.55 L537.20 315.75 L537.35 315.93 L537.50 316.10 L537.65 316.26 L537.80 316.40 L537.95 316.53 L538.10 316.65 L538.25 316.76 L538.40 316.86 L538.55 316.95 L538.70 317.04 L538.85 317.12 L539.00 317.19 L539.15 317.26 L539.30 317.33 L539.45 317.38 L539.60 317.44 L539.75 317.49 L539.90 317.54 L540.05 317.58 L540.20 317.63 L540.35 317.67 L540.50 317.70 L540.65 317.74 L540.80 317.77 L540.95 317.80 L541.10 317.83 L541.25 317.85 L541.40 317.88 L541.55 317.90 L541.70 317.92 L541.85 317.95 L542.00 317.97 L542.15 317.98 L542.30 318.00 L542.45 318.02 L542.60 318.03 L542.75 318.05 L542.90 318.06 L543.05 318.08 L543.20 318.09 L543.35 318.10 L543.50 318.11 L543.65 318.12 L543.80 318.13 L543.95 318.14 L544.10 318.15 L544.25 318.16 L544.40 318.17 L544.55 318.18 L544.70 318.19 L544.85 318.20 L545.00 318.20 L545.15 318.21 L545.30 318.22 L545.45 318.22 L545.60 318.23 L545.75 318.23 L545.90 318.24 L546.05 318.24 L546.20 318.25 L546.35 318.25 L546.50 318.26 L546.65 318.26 L546.80 318.27 L546.95 318.27 L547.10 318.28 L547.25 318.28 L547.40 318.28 L547.55 318.29 L547.70 318.29 L547.85 318.29 L548.00 318.30 L548.15 318.30 L548.30 318.30 L548.45 318.30 L548.60 318.31 L548.75 318.31 L548.90 318.31 L549.05 318.31 L549.20 318.32 L549.35 318.32 L549.50 318.32 L549.65 318.32 L549.80 318.33 L549.95 318.33 L550.10 318.33 L550.25 318.33 L550.40 318.33 L550.55 318.33 L550.70 318.34 L550.85 318.34 L551.00 318.34 L551.15 318.34 L551.30 318.34 L551.45 318.34 L551.60 318.35 L551.75 318.35 L551.90 318.35 L552.05 318.35 L552.20 318.35 L552.35 318.35 L552.50 318.35 L552.65 318.35 L552.80 318.35 L552.95 318.36 L553.10 318.36 L553.25 318.36 L553.40 318.36 L553.55 318.36 L553.70 318.36 L553.85 318.36 L554.00 318.36 L554.15 318.36 L554.30 318.36 L554.45 318.36 L554.60 318.37 L554.75 318.37 L554.90 318.37 L555.05 318.37 L555.20 318.37 L555.35 318.37 L555.50 318.37 L555.65 318.37 L555.80 318.37 L555.95 318.37 L556.10 318.37 L556.25 318.37 L556.40 318.37 L556.55 318.37 L556.70 318.37 L556.85 318.37 L557.00 318.37 L557.15 318.38 L557.30 318.38 L557.45 318.38 L557.60 318.38 L557.75 318.38 L557.90 318.38 L558.05 318.38 L558.20 318.38 L558.35 318.38 L558.50 318.38 L558.65 318.38 L558.80 318.38 L558.95 318.38 L559.10 318.38 L559.25 318.38 L559.40 318.38 L559.55 318.38 L559.70 318.38 L559.85 318.38 L560.00 318.38 L560.00 318.38"/>
<path d="M594.00 318.40 L601.70 318.40 L601.70 318.40 L601.95 312.60 L602.20 307.50 L602.45 303.01 L602.70 299.06 L602.95 295.57 L603.20 292.49 L603.45 289.78 L603.70 287.37 L603.95 285.25 L604.20 283.37 L604.45 281.70 L604.70 280.22 L604.95 278.91 L605.20 277.74 L605.45 276.70 L605.70 275.77 L605.95 274.94 L606.20 274.19 L606.45 273.53 L606.70 272.93 L606.95 272.40 L607.20 271.91 L607.45 271.48 L607.70 271.08 L607.95 270.73 L608.20 270.40 L608.45 270.11 L608.70 269.84 L608.95 269.60 L609.20 269.37 L609.45 269.17 L609.70 268.98 L609.95 268.81 L610.20 268.65 L610.45 268.51 L610.70 268.37 L610.95 268.25 L611.20 268.13 L611.45 268.03 L611.70 267.93 L611.95 267.83 L612.20 267.75 L612.45 267.67 L612.70 267.59 L612.95 267.52 L613.20 267.45 L613.45 267.40 L613.70 267.34 L613.95 267.29 L614.20 267.24 L614.45 267.19 L614.70 267.15 L614.95 267.11 L615.20 267.07 L615.45 267.04 L615.70 267.01 L615.95 266.98 L616.20 266.95 L616.45 266.92 L616.70 266.89 L616.95 266.87 L617.20 266.85 L617.45 266.82 L617.70 266.80 L617.95 266.78 L618.20 266.77 L618.45 266.75 L618.70 266.73 L618.95 266.72 L619.20 266.71 L619.45 266.69 L619.70 266.68 L619.95 266.67 L620.20 266.66 L620.45 266.65 L620.70 266.64 L620.95 266.63 L621.20 266.62 L621.45 266.61 L621.70 266.61 L621.95 266.60 L622.20 266.59 L622.45 266.59 L622.70 266.58 L622.95 266.58 L623.20 266.57 L623.45 266.57 L623.70 266.57 L623.95 266.56 L624.20 266.56 L624.45 266.56 L624.70 266.55 L624.95 266.55 L625.20 266.55 L625.45 266.55 L625.70 266.55 L625.95 266.55 L626.20 266.54 L626.45 266.54 L626.70 266.54 L626.95 266.54 L627.20 266.54 L627.45 266.54 L627.70 266.54 L627.95 266.54 L628.20 266.54 L628.45 266.54 L628.70 266.54 L628.95 266.54 L629.20 266.55 L629.45 266.55 L629.70 266.55 L629.95 266.55 L630.20 266.55 L630.45 266.55 L630.70 266.55 L630.95 266.55 L631.20 266.56 L631.45 266.56 L631.70 266.56 L631.95 266.56 L632.20 266.56 L632.45 266.56 L632.70 266.57 L632.95 266.57 L633.20 266.57 L633.45 266.57 L633.70 266.57 L633.95 266.58 L634.20 266.58 L634.45 266.58 L634.70 266.58 L634.95 266.59 L635.20 266.59 L635.45 266.59 L635.70 266.59 L635.95 266.60 L636.20 266.60 L636.45 266.60 L636.70 266.60 L636.95 266.61 L637.20 266.61 L637.20 266.61 L637.35 266.61 L637.50 266.63 L637.65 266.70 L637.80 266.85 L637.95 267.13 L638.10 267.56 L638.25 268.20 L638.40 269.07 L638.55 270.19 L638.70 271.59 L638.85 273.25 L639.00 275.15 L639.15 277.28 L639.30 279.57 L639.45 281.98 L639.60 284.45 L639.75 286.93 L639.90 289.37 L640.05 291.74 L640.20 294.00 L640.35 296.12 L640.50 298.10 L640.65 299.94 L640.80 301.62 L640.95 303.15 L641.10 304.55 L641.25 305.81 L641.40 306.95 L641.55 307.98 L641.70 308.90 L641.85 309.74 L642.00 310.49 L642.15 311.17 L642.30 311.77 L642.45 312.32 L642.60 312.82 L642.75 313.27 L642.90 313.67 L643.05 314.04 L643.20 314.37 L643.35 314.67 L643.50 314.94 L643.65 315.19 L643.80 315.42 L643.95 315.63 L644.10 315.82 L644.25 315.99 L644.40 316.15 L644.55 316.30 L644.70 316.43 L644.85 316.55 L645.00 316.67 L645.15 316.77 L645.30 316.87 L645.45 316.96 L645.60 317.04 L645.75 317.12 L645.90 317.19 L646.05 317.26 L646.20 317.32 L646.35 317.38 L646.50 317.43 L646.65 317.48 L646.80 317.53 L646.95 317.57 L647.10 317.62 L647.25 317.65 L647.40 317.69 L647.55 317.72 L647.70 317.76 L647.85 317.79 L648.00 317.81 L648.15 317.84 L648.30 317.87 L648.45 317.89 L648.60 317.91 L648.75 317.93 L648.90 317.95 L649.05 317.97 L649.20 317.99 L649.35 318.01 L649.50 318.02 L649.65 318.04 L649.80 318.05 L649.95 318.07 L650.10 318.08 L650.25 318.09 L650.40 318.10 L650.55 318.11 L650.70 318.12 L650.85 318.13 L651.00 318.14 L651.15 318.15 L651.30 318.16 L651.45 318.17 L651.60 318.18 L651.75 318.19 L651.90 318.19 L652.05 318.20 L652.20 318.21 L652.35 318.21 L652.50 318.22 L652.65 318.23 L652.80 318.23 L652.95 318.24 L653.10 318.24 L653.25 318.25 L653.40 318.25 L653.55 318.26 L653.70 318.26 L653.85 318.26 L654.00 318.27 L654.15 318.27 L654.30 318.28 L654.45 318.28 L654.60 318.28 L654.75 318.29 L654.90 318.29 L655.05 318.29 L655.20 318.30 L655.35 318.30 L655.50 318.30 L655.65 318.30 L655.80 318.31 L655.95 318.31 L656.10 318.31 L656.25 318.31 L656.40 318.32 L656.55 318.32 L656.70 318.32 L656.85 318.32 L657.00 318.32 L657.15 318.33 L657.30 318.33 L657.45 318.33 L657.60 318.33 L657.75 318.33 L657.90 318.34 L658.05 318.34 L658.20 318.34 L658.35 318.34 L658.50 318.34 L658.65 318.34 L658.80 318.34 L658.95 318.35 L659.10 318.35 L659.25 318.35 L659.40 318.35 L659.55 318.35 L659.70 318.35 L659.85 318.35 L660.00 318.35 L660.15 318.35 L660.30 318.36 L660.45 318.36 L660.60 318.36 L660.75 318.36 L660.90 318.36 L661.05 318.36 L661.20 318.36 L661.35 318.36 L661.50 318.36 L661.65 318.36 L661.80 318.36 L661.95 318.36 L662.10 318.37 L662.25 318.37 L662.40 318.37 L662.55 318.37 L662.70 318.37 L662.85 318.37 L663.00 318.37 L663.15 318.37 L663.30 318.37 L663.45 318.37 L663.60 318.37 L663.75 318.37 L663.90 318.37 L664.05 318.37 L664.20 318.37 L664.35 318.37 L664.50 318.37 L664.65 318.38 L664.80 318.38 L664.95 318.38 L665.00 318.38"/>
</g>
<line x1="88.9" y1="259" x2="88.9" y2="298.3" stroke="#444" stroke-width="1.3"/>
<line x1="103.3" y1="337.5" x2="137.6" y2="337.5" stroke="#333" stroke-width="1"/>
<g fill="#2a2a2a" font-family='"Liberation Serif", "Times New Roman", serif'>
<text x="92.00" y="40.00" font-size="17.2" text-anchor="start" font-weight="normal" >twitch</text>
<text x="180.70" y="11.50" font-size="17.7" text-anchor="start" font-weight="normal" >15 Hz</text>
<text x="283.90" y="11.50" font-size="17.7" text-anchor="start" font-weight="normal" >30 Hz</text>
<text x="391.50" y="11.50" font-size="17.7" text-anchor="start" font-weight="normal" >40 Hz</text>
<text x="497.60" y="11.50" font-size="17.7" text-anchor="start" font-weight="normal" >75 Hz</text>
<text x="601.00" y="11.50" font-size="17.7" text-anchor="start" font-weight="normal" >125 Hz</text>
<text x="29.80" y="283.40" font-size="13.8" text-anchor="start" font-weight="normal" >10 kN/m<tspan font-size="8.7" dy="-5">2</tspan></text>
<text x="101.50" y="357.80" font-size="13.8" text-anchor="start" font-weight="normal" >500 ms</text>
<text x="1.50" y="88.80" font-size="31" text-anchor="start" font-weight="bold" fill="#1a1a1a">A</text>
<text x="1.50" y="207.10" font-size="31" text-anchor="start" font-weight="bold" fill="#1a1a1a">B</text>
<text x="-1.20" y="321.80" font-size="31" text-anchor="start" font-weight="bold" fill="#1a1a1a">C</text>
<text x="0.50" y="470.70" font-size="31" text-anchor="start" font-weight="bold" fill="#1a1a1a">D</text>
<text x="1.00" y="886.80" font-size="31" text-anchor="start" font-weight="bold" fill="#1a1a1a">E</text>
</g>
<g stroke="#333" stroke-width="1.4" fill="none" stroke-linecap="butt">
<line x1="178.50" y1="416.00" x2="178.50" y2="723.30"/>
<line x1="177.90" y1="722.70" x2="581.80" y2="722.70"/>
<line x1="171.90" y1="722.70" x2="178.50" y2="722.70"/>
<line x1="174.90" y1="694.85" x2="178.50" y2="694.85"/>
<line x1="171.90" y1="667.00" x2="178.50" y2="667.00"/>
<line x1="174.90" y1="639.15" x2="178.50" y2="639.15"/>
<line x1="171.90" y1="611.30" x2="178.50" y2="611.30"/>
<line x1="174.90" y1="583.45" x2="178.50" y2="583.45"/>
<line x1="171.90" y1="555.60" x2="178.50" y2="555.60"/>
<line x1="174.90" y1="527.75" x2="178.50" y2="527.75"/>
<line x1="171.90" y1="499.90" x2="178.50" y2="499.90"/>
<line x1="174.90" y1="472.05" x2="178.50" y2="472.05"/>
<line x1="171.90" y1="444.20" x2="178.50" y2="444.20"/>
<line x1="174.90" y1="416.35" x2="178.50" y2="416.35"/>
<line x1="178.50" y1="722.70" x2="178.50" y2="729.00"/>
<line x1="209.47" y1="722.70" x2="209.47" y2="726.00"/>
<line x1="240.45" y1="722.70" x2="240.45" y2="729.00"/>
<line x1="271.43" y1="722.70" x2="271.43" y2="726.00"/>
<line x1="302.40" y1="722.70" x2="302.40" y2="729.00"/>
<line x1="333.38" y1="722.70" x2="333.38" y2="726.00"/>
<line x1="364.35" y1="722.70" x2="364.35" y2="729.00"/>
<line x1="395.33" y1="722.70" x2="395.33" y2="726.00"/>
<line x1="426.30" y1="722.70" x2="426.30" y2="729.00"/>
<line x1="457.28" y1="722.70" x2="457.28" y2="726.00"/>
<line x1="488.25" y1="722.70" x2="488.25" y2="729.00"/>
<line x1="519.23" y1="722.70" x2="519.23" y2="726.00"/>
<line x1="550.20" y1="722.70" x2="550.20" y2="729.00"/>
<line x1="581.17" y1="722.70" x2="581.17" y2="726.00"/>
</g>
<g fill="#2a2a2a" font-family='"Liberation Serif", "Times New Roman", serif' font-size="14.6">
<text x="167.30" y="727.90" text-anchor="end">0.0</text>
<text x="167.30" y="672.20" text-anchor="end">0.2</text>
<text x="167.30" y="616.50" text-anchor="end">0.4</text>
<text x="167.30" y="560.80" text-anchor="end">0.6</text>
<text x="167.30" y="505.10" text-anchor="end">0.8</text>
<text x="167.30" y="449.40" text-anchor="end">1.0</text>
<text x="178.50" y="743.80" text-anchor="middle">0</text>
<text x="240.45" y="743.80" text-anchor="middle">25</text>
<text x="302.40" y="743.80" text-anchor="middle">50</text>
<text x="364.35" y="743.80" text-anchor="middle">75</text>
<text x="426.30" y="743.80" text-anchor="middle">100</text>
<text x="488.25" y="743.80" text-anchor="middle">125</text>
<text x="550.20" y="743.80" text-anchor="middle">150</text>
</g>
<path fill="none" stroke="#333" stroke-width="1.0" d="M184.20 597.24L212.45 558.16M218.87 549.23L249.64 506.17M257.19 498.33L273.27 485.87M282.60 480.17L297.42 473.23M307.70 469.44L359.05 455.26M369.81 453.11L420.84 446.69M431.80 445.86L482.75 444.54M493.75 444.35L544.70 443.85"/>
<g stroke="#3a3a3a" stroke-width="1.0" fill="none">
<path d="M215.67 547.60V559.80M212.37 547.60H218.97M212.37 559.80H218.97"/>
<path d="M252.84 500.20V503.20M249.54 500.20H256.14M249.54 503.20H256.14"/>
<path d="M277.62 481.30V483.70M274.32 481.30H280.92M274.32 483.70H280.92"/>
<path d="M302.40 469.90V471.90M299.10 469.90H305.70M299.10 471.90H305.70"/>
<path d="M364.35 453.00V454.60M361.05 453.00H367.65M361.05 454.60H367.65"/>
</g>
<rect x="177.63" y="598.35" width="6.7" height="6.7" fill="#1c1c1c"/>
<rect x="212.32" y="550.35" width="6.7" height="6.7" fill="#1c1c1c"/>
<rect x="249.49" y="498.35" width="6.7" height="6.7" fill="#1c1c1c"/>
<rect x="274.27" y="479.15" width="6.7" height="6.7" fill="#1c1c1c"/>
<rect x="299.05" y="467.55" width="6.7" height="6.7" fill="#1c1c1c"/>
<rect x="361.00" y="450.45" width="6.7" height="6.7" fill="#1c1c1c"/>
<rect x="422.95" y="442.65" width="6.7" height="6.7" fill="#1c1c1c"/>
<rect x="484.90" y="441.05" width="6.7" height="6.7" fill="#1c1c1c"/>
<rect x="546.85" y="440.45" width="6.7" height="6.7" fill="#1c1c1c"/>
<path fill="none" stroke="#333" stroke-width="1.0" d="M185.85 627.46L210.79 614.44M218.26 607.05L250.25 547.15M256.19 537.94L274.27 514.46M282.13 506.95L297.89 495.95M307.63 491.11L359.12 474.49M369.79 471.97L420.86 464.13M431.79 463.02L482.76 460.38M493.75 460.14L544.70 460.56"/>
<g stroke="#3a3a3a" stroke-width="1.0" fill="none">
<path d="M180.98 626.50V633.50M177.68 626.50H184.28M177.68 633.50H184.28"/>
<path d="M215.67 605.70V618.10M212.37 605.70H218.97M212.37 618.10H218.97"/>
<path d="M252.84 534.20V550.40M249.54 534.20H256.14M249.54 550.40H256.14"/>
<path d="M277.62 503.60V516.60M274.32 503.60H280.92M274.32 516.60H280.92"/>
<path d="M302.40 487.70V497.90M299.10 487.70H305.70M299.10 497.90H305.70"/>
<path d="M364.35 468.50V477.10M361.05 468.50H367.65M361.05 477.10H367.65"/>
<path d="M426.30 458.60V468.00M423.00 458.60H429.60M423.00 468.00H429.60"/>
<path d="M488.25 455.20V465.00M484.95 455.20H491.55M484.95 465.00H491.55"/>
<path d="M550.20 455.50V465.70M546.90 455.50H553.50M546.90 465.70H553.50"/>
</g>
<circle cx="180.98" cy="630.00" r="3.95" fill="#1c1c1c"/>
<circle cx="215.67" cy="611.90" r="3.95" fill="#1c1c1c"/>
<circle cx="252.84" cy="542.30" r="3.95" fill="#1c1c1c"/>
<circle cx="277.62" cy="510.10" r="3.95" fill="#1c1c1c"/>
<circle cx="302.40" cy="492.80" r="3.95" fill="#1c1c1c"/>
<circle cx="364.35" cy="472.80" r="3.95" fill="#1c1c1c"/>
<circle cx="426.30" cy="463.30" r="3.95" fill="#1c1c1c"/>
<circle cx="488.25" cy="460.10" r="3.95" fill="#1c1c1c"/>
<circle cx="550.20" cy="460.60" r="3.95" fill="#1c1c1c"/>
<path fill="none" stroke="#333" stroke-width="1.0" d="M186.40 655.59L210.25 651.61M218.84 646.20L249.67 602.40M256.23 593.57L274.23 570.63M281.49 562.39L298.53 545.21M307.36 538.92L359.39 513.88M369.75 510.46L420.90 500.64M431.79 499.29L482.76 496.41M493.75 496.27L544.70 497.83"/>
<g stroke="#3a3a3a" stroke-width="1.0" fill="none">
<path d="M180.98 651.50V661.50M177.68 651.50H184.28M177.68 661.50H184.28"/>
<path d="M215.67 643.70V657.70M212.37 643.70H218.97M212.37 657.70H218.97"/>
<path d="M252.84 587.60V608.20M249.54 587.60H256.14M249.54 608.20H256.14"/>
<path d="M277.62 558.50V574.10M274.32 558.50H280.92M274.32 574.10H280.92"/>
<path d="M302.40 533.30V549.30M299.10 533.30H305.70M299.10 549.30H305.70"/>
<path d="M364.35 501.20V521.80M361.05 501.20H367.65M361.05 521.80H367.65"/>
<path d="M426.30 487.70V511.50M423.00 487.70H429.60M423.00 511.50H429.60"/>
<path d="M488.25 483.90V508.30M484.95 483.90H491.55M484.95 508.30H491.55"/>
<path d="M550.20 486.20V509.80M546.90 486.20H553.50M546.90 509.80H553.50"/>
</g>
<circle cx="180.98" cy="656.50" r="3.55" fill="#fff" stroke="#2a2a2a" stroke-width="1.1"/>
<circle cx="215.67" cy="650.70" r="3.55" fill="#fff" stroke="#2a2a2a" stroke-width="1.1"/>
<circle cx="252.84" cy="597.90" r="3.55" fill="#fff" stroke="#2a2a2a" stroke-width="1.1"/>
<circle cx="277.62" cy="566.30" r="3.55" fill="#fff" stroke="#2a2a2a" stroke-width="1.1"/>
<circle cx="302.40" cy="541.30" r="3.55" fill="#fff" stroke="#2a2a2a" stroke-width="1.1"/>
<circle cx="364.35" cy="511.50" r="3.55" fill="#fff" stroke="#2a2a2a" stroke-width="1.1"/>
<circle cx="426.30" cy="499.60" r="3.55" fill="#fff" stroke="#2a2a2a" stroke-width="1.1"/>
<circle cx="488.25" cy="496.10" r="3.55" fill="#fff" stroke="#2a2a2a" stroke-width="1.1"/>
<circle cx="550.20" cy="498.00" r="3.55" fill="#fff" stroke="#2a2a2a" stroke-width="1.1"/>
<g stroke="#333" stroke-width="1.45" fill="none" stroke-linecap="butt">
<line x1="179.80" y1="832.70" x2="179.80" y2="1144.70"/>
<line x1="179.20" y1="1144.10" x2="581.20" y2="1144.10"/>
<line x1="173.20" y1="1144.10" x2="179.80" y2="1144.10"/>
<line x1="176.20" y1="1115.85" x2="179.80" y2="1115.85"/>
<line x1="173.20" y1="1087.60" x2="179.80" y2="1087.60"/>
<line x1="176.20" y1="1059.35" x2="179.80" y2="1059.35"/>
<line x1="173.20" y1="1031.10" x2="179.80" y2="1031.10"/>
<line x1="176.20" y1="1002.85" x2="179.80" y2="1002.85"/>
<line x1="173.20" y1="974.60" x2="179.80" y2="974.60"/>
<line x1="176.20" y1="946.35" x2="179.80" y2="946.35"/>
<line x1="173.20" y1="918.10" x2="179.80" y2="918.10"/>
<line x1="176.20" y1="889.85" x2="179.80" y2="889.85"/>
<line x1="173.20" y1="861.60" x2="179.80" y2="861.60"/>
<line x1="176.20" y1="833.35" x2="179.80" y2="833.35"/>
<line x1="179.80" y1="1144.10" x2="179.80" y2="1150.40"/>
<line x1="210.62" y1="1144.10" x2="210.62" y2="1147.40"/>
<line x1="241.45" y1="1144.10" x2="241.45" y2="1150.40"/>
<line x1="272.28" y1="1144.10" x2="272.28" y2="1147.40"/>
<line x1="303.10" y1="1144.10" x2="303.10" y2="1150.40"/>
<line x1="333.93" y1="1144.10" x2="333.93" y2="1147.40"/>
<line x1="364.75" y1="1144.10" x2="364.75" y2="1150.40"/>
<line x1="395.58" y1="1144.10" x2="395.58" y2="1147.40"/>
<line x1="426.40" y1="1144.10" x2="426.40" y2="1150.40"/>
<line x1="457.23" y1="1144.10" x2="457.23" y2="1147.40"/>
<line x1="488.05" y1="1144.10" x2="488.05" y2="1150.40"/>
<line x1="518.88" y1="1144.10" x2="518.88" y2="1147.40"/>
<line x1="549.70" y1="1144.10" x2="549.70" y2="1150.40"/>
<line x1="580.53" y1="1144.10" x2="580.53" y2="1147.40"/>
</g>
<g fill="#2a2a2a" font-family='"Liberation Serif", "Times New Roman", serif' font-size="13.2">
<text x="168.80" y="1148.60" text-anchor="end">0.0</text>
<text x="168.80" y="1092.10" text-anchor="end">0.2</text>
<text x="168.80" y="1035.60" text-anchor="end">0.4</text>
<text x="168.80" y="979.10" text-anchor="end">0.6</text>
<text x="168.80" y="922.60" text-anchor="end">0.8</text>
<text x="168.80" y="866.10" text-anchor="end">1.0</text>
<text x="179.80" y="1164.40" text-anchor="middle">0</text>
<text x="241.45" y="1164.40" text-anchor="middle">25</text>
<text x="303.10" y="1164.40" text-anchor="middle">50</text>
<text x="364.75" y="1164.40" text-anchor="middle">75</text>
<text x="426.40" y="1164.40" text-anchor="middle">100</text>
<text x="488.05" y="1164.40" text-anchor="middle">125</text>
<text x="549.70" y="1164.40" text-anchor="middle">150</text>
</g>
<line x1="179.80" y1="861.40" x2="549.70" y2="861.40" stroke="#333" stroke-width="1.1"/>
<path fill="none" stroke="#333" stroke-width="1.3" d="M220.26 954.54L250.31 917.66M258.09 909.98L274.13 897.22M283.67 892.08L297.87 887.42M308.59 885.33L359.26 881.87M370.25 881.29L420.90 879.31M431.90 878.94L482.55 877.46M493.55 877.41L544.20 878.39"/>
<g stroke="#555" stroke-width="0.8" fill="none">
<path d="M216.79 952.30V965.30M213.49 952.30H220.09M213.49 965.30H220.09"/>
<path d="M253.78 905.10V921.70M250.48 905.10H257.08M250.48 921.70H257.08"/>
<path d="M278.44 887.30V900.30M275.14 887.30H281.74M275.14 900.30H281.74"/>
<path d="M303.10 880.40V891.00M299.80 880.40H306.40M299.80 891.00H306.40"/>
<path d="M364.75 877.00V886.00M361.45 877.00H368.05M361.45 886.00H368.05"/>
<path d="M426.40 874.00V884.20M423.10 874.00H429.70M423.10 884.20H429.70"/>
<path d="M488.05 872.00V882.60M484.75 872.00H491.35M484.75 882.60H491.35"/>
<path d="M549.70 873.10V883.90M546.40 873.10H553.00M546.40 883.90H553.00"/>
</g>
<circle cx="216.79" cy="958.80" r="3.85" fill="#1c1c1c"/>
<circle cx="253.78" cy="913.40" r="3.85" fill="#1c1c1c"/>
<circle cx="278.44" cy="893.80" r="3.85" fill="#1c1c1c"/>
<circle cx="303.10" cy="885.70" r="3.85" fill="#1c1c1c"/>
<circle cx="364.75" cy="881.50" r="3.85" fill="#1c1c1c"/>
<circle cx="426.40" cy="879.10" r="3.85" fill="#1c1c1c"/>
<circle cx="488.05" cy="877.30" r="3.85" fill="#1c1c1c"/>
<circle cx="549.70" cy="878.50" r="3.85" fill="#1c1c1c"/>
<path fill="none" stroke="#333" stroke-width="1.3" d="M220.59 1019.52L249.98 988.68M257.64 980.78L274.58 963.62M282.75 956.29L298.79 943.61M308.37 938.63L359.48 923.37M370.22 921.27L420.93 916.33M431.90 915.61L482.55 913.89M493.54 913.94L544.21 916.16"/>
<g stroke="#555" stroke-width="0.8" fill="none">
<path d="M216.79 1016.40V1030.60M213.49 1016.40H220.09M213.49 1030.60H220.09"/>
<path d="M253.78 974.60V994.80M250.48 974.60H257.08M250.48 994.80H257.08"/>
<path d="M278.44 951.90V967.50M275.14 951.90H281.74M275.14 967.50H281.74"/>
<path d="M303.10 932.20V948.20M299.80 932.20H306.40M299.80 948.20H306.40"/>
<path d="M364.75 911.30V932.30M361.45 911.30H368.05M361.45 932.30H368.05"/>
<path d="M426.40 903.50V928.10M423.10 903.50H429.70M423.10 928.10H429.70"/>
<path d="M488.05 901.10V926.30M484.75 901.10H491.35M484.75 926.30H491.35"/>
<path d="M549.70 904.50V928.30M546.40 904.50H553.00M546.40 928.30H553.00"/>
</g>
<circle cx="216.79" cy="1023.50" r="3.35" fill="#fff" stroke="#2a2a2a" stroke-width="1.4"/>
<circle cx="253.78" cy="984.70" r="3.35" fill="#fff" stroke="#2a2a2a" stroke-width="1.4"/>
<circle cx="278.44" cy="959.70" r="3.35" fill="#fff" stroke="#2a2a2a" stroke-width="1.4"/>
<circle cx="303.10" cy="940.20" r="3.35" fill="#fff" stroke="#2a2a2a" stroke-width="1.4"/>
<circle cx="364.75" cy="921.80" r="3.35" fill="#fff" stroke="#2a2a2a" stroke-width="1.4"/>
<circle cx="426.40" cy="915.80" r="3.35" fill="#fff" stroke="#2a2a2a" stroke-width="1.4"/>
<circle cx="488.05" cy="913.70" r="3.35" fill="#fff" stroke="#2a2a2a" stroke-width="1.4"/>
<circle cx="549.70" cy="916.40" r="3.35" fill="#fff" stroke="#2a2a2a" stroke-width="1.4"/>
<g fill="#2a2a2a" font-family='"Liberation Serif", "Times New Roman", serif' font-size="17">
<text x="335.70" y="772.80" font-size="17.5" text-anchor="start" font-weight="normal" >Frequency (Hz)</text>
<text x="332.40" y="1192.30" font-size="17.35" text-anchor="start" font-weight="normal" >Frequency (Hz)</text>
<text transform="translate(133.1,611.3) rotate(-90)" font-size="17.35">Relative Tension</text>
<text transform="translate(139.7,1036.0) rotate(-90)" font-size="17.4">Relative Tension</text>
<text x="527.60" y="545.50" font-size="17.4" text-anchor="start" font-weight="normal" >Control</text>
<text x="528.60" y="565.10" font-size="17" text-anchor="start" font-weight="normal" >H<tspan font-size="11.5" dy="3.4">2</tspan><tspan dy="-3.4">O</tspan><tspan font-size="11.5" dy="3.4">2</tspan><tspan dy="-3.4" dx="-0.8"></tspan></text>
<text x="528.60" y="584.70" font-size="17" text-anchor="start" font-weight="normal" >H<tspan font-size="11.5" dy="3.4">2</tspan><tspan dy="-3.4">O</tspan><tspan font-size="11.5" dy="3.4">2</tspan><tspan dy="-3.4" dx="-0.8"> fatigue</tspan></text>
<text x="465.20" y="1036.40" font-size="17.4" text-anchor="start" font-weight="normal" >Control</text>
<text x="466.60" y="1055.00" font-size="17" text-anchor="start" font-weight="normal" >H<tspan font-size="11.5" dy="3.4">2</tspan><tspan dy="-3.4">O</tspan><tspan font-size="11.5" dy="3.4">2</tspan><tspan dy="-3.4" dx="-0.8"></tspan></text>
<text x="466.60" y="1074.80" font-size="17" text-anchor="start" font-weight="normal" >H<tspan font-size="11.5" dy="3.4">2</tspan><tspan dy="-3.4">O</tspan><tspan font-size="11.5" dy="3.4">2</tspan><tspan dy="-3.4" dx="-0.8"> fatigue</tspan></text>
</g>
<path d="M486.20 542.90H499.40M510.30 542.90H523.70" stroke="#333" stroke-width="1" fill="none"/>
<rect x="501.65" y="539.55" width="6.7" height="6.7" fill="#1c1c1c"/>
<path d="M486.20 562.20H499.40M510.30 562.20H523.70" stroke="#333" stroke-width="1" fill="none"/>
<circle cx="505.00" cy="562.20" r="3.95" fill="#1c1c1c"/>
<path d="M486.20 581.40H499.40M510.30 581.40H523.70" stroke="#333" stroke-width="1" fill="none"/>
<circle cx="505.00" cy="581.40" r="3.3" fill="#fff" stroke="#2a2a2a" stroke-width="1.1"/>
<line x1="424.40" y1="1029.80" x2="461.70" y2="1029.80" stroke="#333" stroke-width="1"/>
<path d="M424.40 1049.50H437.10M448.00 1049.50H461.70" stroke="#333" stroke-width="1" fill="none"/>
<circle cx="442.70" cy="1049.50" r="3.95" fill="#1c1c1c"/>
<path d="M424.40 1069.50H437.10M448.00 1069.50H461.70" stroke="#333" stroke-width="1" fill="none"/>
<circle cx="442.70" cy="1069.50" r="2.9" fill="#fff" stroke="#2a2a2a" stroke-width="1.2"/>
</svg>
</body></html>
